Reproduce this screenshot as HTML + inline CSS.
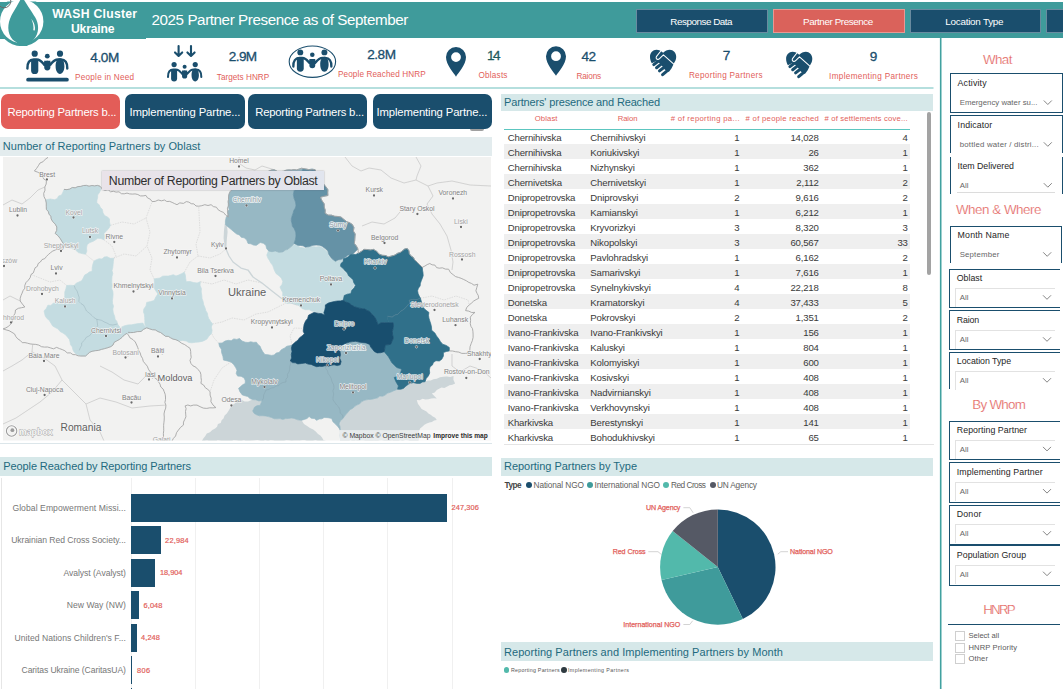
<!DOCTYPE html>
<html><head><meta charset="utf-8"><title>WASH Cluster Ukraine - Partner Presence</title>
<style>html,body{margin:0;padding:0;background:#fff}
#pg{position:relative;width:1063px;height:689px;overflow:hidden;background:#fff;font-family:"Liberation Sans",sans-serif}
.t{position:absolute;white-space:nowrap;margin:0}
.b{position:absolute}
svg{position:absolute;left:0;top:0;overflow:visible}
</style></head><body>
<div id="pg">
<div class="b" style="left:0px;top:1.7px;width:1063px;height:36px;background:#3F9B9B;"></div>
<div class="b" style="left:0px;top:1.7px;width:146px;height:36.9px;background:#3F9B9B;"></div>
<div class="b" style="left:636px;top:8.5px;width:130px;height:22.5px;background:#1A4E6D;border:1px solid rgba(255,255,255,.35);"></div>
<div class="t" style="left:670.25px;top:15.00px;height:13px;line-height:13px;font-size:9.9px;color:#fff;letter-spacing:-0.478px;">Response Data</div>
<div class="b" style="left:773px;top:8.5px;width:129.5px;height:22.5px;background:#DA625B;border:1px solid rgba(255,255,255,.35);"></div>
<div class="t" style="left:803.00px;top:15.00px;height:13px;line-height:13px;font-size:9.9px;color:#fff;letter-spacing:-0.436px;">Partner Presence</div>
<div class="b" style="left:909.5px;top:8.5px;width:129.0px;height:22.5px;background:#1A4E6D;border:1px solid rgba(255,255,255,.35);"></div>
<div class="t" style="left:945.25px;top:15.00px;height:13px;line-height:13px;font-size:9.9px;color:#fff;letter-spacing:-0.247px;">Location Type</div>
<div class="b" style="left:1045.5px;top:8.5px;width:23.5px;height:22.5px;background:#1A4E6D;border:1px solid rgba(255,255,255,.35);"></div>
<div class="t" style="left:151.50px;top:10.00px;height:19px;line-height:19px;font-size:15.2px;color:#fff;letter-spacing:-0.419px;">2025 Partner Presence as of September</div>
<div class="t" style="left:52.20px;top:6.00px;height:16px;line-height:16px;font-size:12.2px;color:#fff;letter-spacing:0.271px;font-weight:bold;">WASH Cluster</div>
<div class="t" style="left:71.00px;top:21.00px;height:16px;line-height:16px;font-size:12.2px;color:#fff;letter-spacing:-0.193px;font-weight:bold;">Ukraine</div>
<div class="t" style="left:90.30px;top:49.00px;height:17px;line-height:17px;font-size:13.6px;color:#1A4E6D;letter-spacing:-0.412px;-webkit-text-stroke:0.3px;">4.0M</div>
<div class="t" style="left:75.00px;top:72.00px;height:11px;line-height:11px;font-size:8.2px;color:#E2605A;letter-spacing:0.240px;">People in Need</div>
<div class="t" style="left:228.80px;top:48.00px;height:17px;line-height:17px;font-size:13.6px;color:#1A4E6D;letter-spacing:-0.612px;-webkit-text-stroke:0.3px;">2.9M</div>
<div class="t" style="left:216.80px;top:72.00px;height:11px;line-height:11px;font-size:8.2px;color:#E2605A;letter-spacing:0.009px;">Targets HNRP</div>
<div class="t" style="left:367.30px;top:46.00px;height:17px;line-height:17px;font-size:13.6px;color:#1A4E6D;letter-spacing:-0.512px;-webkit-text-stroke:0.3px;">2.8M</div>
<div class="t" style="left:338.00px;top:69.00px;height:11px;line-height:11px;font-size:8.2px;color:#E2605A;letter-spacing:0.092px;">People Reached HNRP</div>
<div class="t" style="left:487.00px;top:47.00px;height:17px;line-height:17px;font-size:13.6px;color:#1E5A5E;letter-spacing:-1.527px;-webkit-text-stroke:0.3px;">14</div>
<div class="t" style="left:478.50px;top:70.00px;height:11px;line-height:11px;font-size:8.2px;color:#E2605A;letter-spacing:0.200px;">Oblasts</div>
<div class="t" style="left:581.50px;top:48.00px;height:17px;line-height:17px;font-size:13.6px;color:#1A4E6D;letter-spacing:-0.627px;-webkit-text-stroke:0.3px;">42</div>
<div class="t" style="left:576.40px;top:71.00px;height:11px;line-height:11px;font-size:8.2px;color:#E2605A;letter-spacing:-0.145px;">Raions</div>
<div class="t" style="left:722.70px;top:47.00px;height:17px;line-height:17px;font-size:13.6px;color:#1A4E6D;-webkit-text-stroke:0.3px;">7</div>
<div class="t" style="left:688.90px;top:70.00px;height:11px;line-height:11px;font-size:8.2px;color:#E2605A;letter-spacing:0.293px;">Reporting Partners</div>
<div class="t" style="left:869.70px;top:48.00px;height:17px;line-height:17px;font-size:13.6px;color:#1A4E6D;-webkit-text-stroke:0.3px;">9</div>
<div class="t" style="left:829.10px;top:71.00px;height:11px;line-height:11px;font-size:8.2px;color:#E2605A;letter-spacing:0.320px;">Implementing Partners</div>
<div class="b" style="left:470px;top:127px;width:14px;height:4px;background:#a0a0a0;border-radius:2px;"></div>
<div class="b" style="left:1.2px;top:94.2px;width:118.8px;height:34.8px;background:#E35D58;border-radius:7px;"></div>
<div class="t" style="left:7.50px;top:105.00px;height:14px;line-height:14px;font-size:11.3px;color:#fff;letter-spacing:-0.213px;">Reporting Partners b...</div>
<div class="b" style="left:125.4px;top:94.2px;width:119.19999999999999px;height:34.8px;background:#1A4E6D;border-radius:7px;"></div>
<div class="t" style="left:129.40px;top:105.00px;height:14px;line-height:14px;font-size:11.3px;color:#fff;letter-spacing:-0.128px;">Implementing Partne...</div>
<div class="b" style="left:248px;top:94.2px;width:119.19999999999999px;height:34.8px;background:#1A4E6D;border-radius:7px;"></div>
<div class="t" style="left:255.20px;top:105.00px;height:14px;line-height:14px;font-size:11.3px;color:#fff;letter-spacing:-0.213px;">Reporting Partners b...</div>
<div class="b" style="left:372.8px;top:94.2px;width:119.19999999999999px;height:34.8px;background:#1A4E6D;border-radius:7px;"></div>
<div class="t" style="left:376.50px;top:105.00px;height:14px;line-height:14px;font-size:11.3px;color:#fff;letter-spacing:-0.128px;">Implementing Partne...</div>
<div class="b" style="left:0px;top:136.8px;width:492px;height:19.2px;background:#E3ECEE;"></div>
<div class="t" style="left:2.80px;top:139.00px;height:14px;line-height:14px;font-size:11px;color:#1E6A7E;letter-spacing:0.036px;">Number of Reporting Partners by Oblast</div>
<div class="b" style="left:0px;top:457px;width:492px;height:19px;background:#D6E8E9;"></div>
<div class="t" style="left:3.30px;top:459.00px;height:14px;line-height:14px;font-size:11px;color:#1E6A7E;letter-spacing:-0.106px;">People Reached by Reporting Partners</div>
<div class="b" style="left:0px;top:443.2px;width:492px;height:1px;background:#DCE6EA;"></div>
<div class="b" style="left:501.4px;top:94.2px;width:432px;height:16.4px;background:#D6E8E9;"></div>
<div class="t" style="left:504.00px;top:95.00px;height:14px;line-height:14px;font-size:11px;color:#1E6A7E;letter-spacing:-0.154px;">Partners&#x27; presence and Reached</div>
<div class="b" style="left:501.4px;top:457.5px;width:432px;height:18px;background:#D6E8E9;"></div>
<div class="t" style="left:504.00px;top:459.00px;height:14px;line-height:14px;font-size:11px;color:#1E6A7E;letter-spacing:-0.028px;">Reporting Partners by Type</div>
<div class="b" style="left:501.4px;top:642px;width:432px;height:19px;background:#D6E8E9;"></div>
<div class="t" style="left:504.00px;top:645.00px;height:14px;line-height:14px;font-size:11px;color:#1E6A7E;letter-spacing:0.062px;">Reporting Partners and Implementing Partners by Month</div>
<div class="b" style="left:101.5px;top:171.4px;width:222.5px;height:18.2px;background:linear-gradient(90deg,#E9E3E9 0%,#E6E3EA 60%,#E1E5EE 100%);box-shadow:0 0 1.5px rgba(90,90,110,.55);z-index:5;"></div>
<div class="t" style="left:108.80px;top:173.00px;height:16px;line-height:16px;font-size:12.3px;color:#2e2e2e;letter-spacing:-0.282px;z-index:6;">Number of Reporting Partners by Oblast</div>
<div class="b" style="left:130.5px;top:478px;width:1px;height:212px;background:#F0F0F0;"></div>
<div class="b" style="left:194.7px;top:478px;width:1px;height:212px;background:#F0F0F0;"></div>
<div class="b" style="left:258.9px;top:478px;width:1px;height:212px;background:#F0F0F0;"></div>
<div class="b" style="left:323.1px;top:478px;width:1px;height:212px;background:#F0F0F0;"></div>
<div class="b" style="left:387.3px;top:478px;width:1px;height:212px;background:#F0F0F0;"></div>
<div class="b" style="left:451.5px;top:478px;width:1px;height:212px;background:#F0F0F0;"></div>
<div class="b" style="left:0.5px;top:478px;width:1px;height:212px;background:#E6E6E6;"></div>
<div class="b" style="left:131px;top:493.5px;width:316px;height:28.2px;background:#1A4E6D;"></div>
<div class="t" style="left:12.40px;top:502.00px;height:12px;line-height:12px;font-size:8.6px;color:#777;letter-spacing:0.068px;">Global Empowerment Missi...</div>
<div class="t" style="left:451.60px;top:502.00px;height:11px;line-height:11px;font-size:7.4px;color:#E2605A;letter-spacing:0.075px;-webkit-text-stroke:0.2px;">247,306</div>
<div class="b" style="left:131px;top:526.0px;width:29.5px;height:28.2px;background:#1A4E6D;"></div>
<div class="t" style="left:11.20px;top:534.00px;height:12px;line-height:12px;font-size:8.6px;color:#777;letter-spacing:-0.057px;">Ukrainian Red Cross Society...</div>
<div class="t" style="left:165.10px;top:535.00px;height:11px;line-height:11px;font-size:7.4px;color:#E2605A;letter-spacing:0.173px;-webkit-text-stroke:0.2px;">22,984</div>
<div class="b" style="left:131px;top:558.5px;width:24.30000000000001px;height:28.2px;background:#1A4E6D;"></div>
<div class="t" style="left:63.50px;top:567.00px;height:12px;line-height:12px;font-size:8.6px;color:#777;letter-spacing:-0.047px;">Avalyst (Avalyst)</div>
<div class="t" style="left:159.90px;top:567.00px;height:11px;line-height:11px;font-size:7.4px;color:#E2605A;letter-spacing:-0.007px;-webkit-text-stroke:0.2px;">18,904</div>
<div class="b" style="left:131px;top:591.0px;width:8px;height:28.2px;background:#1A4E6D;"></div>
<div class="t" style="left:66.70px;top:599.00px;height:12px;line-height:12px;font-size:8.6px;color:#777;letter-spacing:0.035px;">New Way (NW)</div>
<div class="t" style="left:143.60px;top:600.00px;height:11px;line-height:11px;font-size:7.4px;color:#E2605A;letter-spacing:0.070px;-webkit-text-stroke:0.2px;">6,048</div>
<div class="b" style="left:131px;top:623.5px;width:5.5px;height:28.2px;background:#1A4E6D;"></div>
<div class="t" style="left:14.50px;top:632.00px;height:12px;line-height:12px;font-size:8.6px;color:#777;letter-spacing:0.030px;">United Nations Children&#x27;s F...</div>
<div class="t" style="left:141.10px;top:632.00px;height:11px;line-height:11px;font-size:7.4px;color:#E2605A;letter-spacing:0.070px;-webkit-text-stroke:0.2px;">4,248</div>
<div class="b" style="left:131px;top:656.0px;width:1.4000000000000057px;height:28.2px;background:#1A4E6D;"></div>
<div class="t" style="left:21.50px;top:664.00px;height:12px;line-height:12px;font-size:8.6px;color:#777;letter-spacing:-0.080px;">Caritas Ukraine (CaritasUA)</div>
<div class="t" style="left:137.00px;top:665.00px;height:11px;line-height:11px;font-size:7.4px;color:#E2605A;letter-spacing:0.427px;-webkit-text-stroke:0.2px;">806</div>
<div class="b" style="left:131px;top:687.8px;width:1px;height:2px;background:#1A4E6D;"></div>
<div class="t" style="left:534.65px;top:113.00px;height:11px;line-height:11px;font-size:7.7px;color:#E2605A;letter-spacing:0.129px;">Oblast</div>
<div class="t" style="left:617.70px;top:113.00px;height:11px;line-height:11px;font-size:7.7px;color:#E2605A;letter-spacing:-0.080px;">Raion</div>
<div class="t" style="left:670.70px;top:113.00px;height:11px;line-height:11px;font-size:7.7px;color:#E2605A;letter-spacing:0.342px;"># of reporting pa...</div>
<div class="t" style="left:745.60px;top:113.00px;height:11px;line-height:11px;font-size:7.7px;color:#E2605A;letter-spacing:0.291px;"># of people reached</div>
<div class="t" style="left:824.40px;top:113.00px;height:11px;line-height:11px;font-size:7.7px;color:#E2605A;letter-spacing:0.184px;"># of settlements cove...</div>
<div class="b" style="left:503.5px;top:129.3px;width:406.5px;height:1px;background:#5CC6C0;"></div>
<div class="t" style="left:507.70px;top:131.00px;height:13px;line-height:13px;font-size:9.6px;color:#3a3a3a;letter-spacing:-0.151px;">Chernihivska</div>
<div class="t" style="left:590.30px;top:131.00px;height:13px;line-height:13px;font-size:9.6px;color:#3a3a3a;letter-spacing:-0.143px;">Chernihivskyi</div>
<div class="t" style="left:734.36px;top:131.00px;height:13px;line-height:13px;font-size:9.6px;color:#3a3a3a;">1</div>
<div class="t" style="left:790.42px;top:131.00px;height:13px;line-height:13px;font-size:9.6px;color:#3a3a3a;letter-spacing:-0.176px;">14,028</div>
<div class="t" style="left:902.46px;top:131.00px;height:13px;line-height:13px;font-size:9.6px;color:#3a3a3a;">4</div>
<div class="b" style="left:503.5px;top:144.0px;width:406.5px;height:15px;background:#EFEFEF;"></div>
<div class="t" style="left:507.70px;top:146.00px;height:13px;line-height:13px;font-size:9.6px;color:#3a3a3a;letter-spacing:-0.151px;">Chernihivska</div>
<div class="t" style="left:590.30px;top:146.00px;height:13px;line-height:13px;font-size:9.6px;color:#3a3a3a;letter-spacing:-0.138px;">Koriukivskyi</div>
<div class="t" style="left:734.36px;top:146.00px;height:13px;line-height:13px;font-size:9.6px;color:#3a3a3a;">1</div>
<div class="t" style="left:808.54px;top:146.00px;height:13px;line-height:13px;font-size:9.6px;color:#3a3a3a;letter-spacing:-0.320px;">26</div>
<div class="t" style="left:902.46px;top:146.00px;height:13px;line-height:13px;font-size:9.6px;color:#3a3a3a;">1</div>
<div class="t" style="left:507.70px;top:161.00px;height:13px;line-height:13px;font-size:9.6px;color:#3a3a3a;letter-spacing:-0.151px;">Chernihivska</div>
<div class="t" style="left:590.30px;top:161.00px;height:13px;line-height:13px;font-size:9.6px;color:#3a3a3a;letter-spacing:-0.153px;">Nizhynskyi</div>
<div class="t" style="left:734.36px;top:161.00px;height:13px;line-height:13px;font-size:9.6px;color:#3a3a3a;">1</div>
<div class="t" style="left:803.36px;top:161.00px;height:13px;line-height:13px;font-size:9.6px;color:#3a3a3a;letter-spacing:-0.240px;">362</div>
<div class="t" style="left:902.46px;top:161.00px;height:13px;line-height:13px;font-size:9.6px;color:#3a3a3a;">1</div>
<div class="b" style="left:503.5px;top:174.0px;width:406.5px;height:15px;background:#EFEFEF;"></div>
<div class="t" style="left:507.70px;top:176.00px;height:13px;line-height:13px;font-size:9.6px;color:#3a3a3a;letter-spacing:-0.153px;">Chernivetska</div>
<div class="t" style="left:590.30px;top:176.00px;height:13px;line-height:13px;font-size:9.6px;color:#3a3a3a;letter-spacing:-0.144px;">Chernivetskyi</div>
<div class="t" style="left:734.36px;top:176.00px;height:13px;line-height:13px;font-size:9.6px;color:#3a3a3a;">1</div>
<div class="t" style="left:796.29px;top:176.00px;height:13px;line-height:13px;font-size:9.6px;color:#3a3a3a;letter-spacing:-0.175px;">2,112</div>
<div class="t" style="left:902.46px;top:176.00px;height:13px;line-height:13px;font-size:9.6px;color:#3a3a3a;">2</div>
<div class="t" style="left:507.70px;top:191.00px;height:13px;line-height:13px;font-size:9.6px;color:#3a3a3a;letter-spacing:-0.150px;">Dnipropetrovska</div>
<div class="t" style="left:590.30px;top:191.00px;height:13px;line-height:13px;font-size:9.6px;color:#3a3a3a;letter-spacing:-0.149px;">Dniprovskyi</div>
<div class="t" style="left:734.36px;top:191.00px;height:13px;line-height:13px;font-size:9.6px;color:#3a3a3a;">2</div>
<div class="t" style="left:795.60px;top:191.00px;height:13px;line-height:13px;font-size:9.6px;color:#3a3a3a;letter-spacing:-0.180px;">9,616</div>
<div class="t" style="left:902.46px;top:191.00px;height:13px;line-height:13px;font-size:9.6px;color:#3a3a3a;">2</div>
<div class="b" style="left:503.5px;top:204.0px;width:406.5px;height:15px;background:#EFEFEF;"></div>
<div class="t" style="left:507.70px;top:206.00px;height:13px;line-height:13px;font-size:9.6px;color:#3a3a3a;letter-spacing:-0.150px;">Dnipropetrovska</div>
<div class="t" style="left:590.30px;top:206.00px;height:13px;line-height:13px;font-size:9.6px;color:#3a3a3a;letter-spacing:-0.164px;">Kamianskyi</div>
<div class="t" style="left:734.36px;top:206.00px;height:13px;line-height:13px;font-size:9.6px;color:#3a3a3a;">1</div>
<div class="t" style="left:795.60px;top:206.00px;height:13px;line-height:13px;font-size:9.6px;color:#3a3a3a;letter-spacing:-0.180px;">6,212</div>
<div class="t" style="left:902.46px;top:206.00px;height:13px;line-height:13px;font-size:9.6px;color:#3a3a3a;">1</div>
<div class="t" style="left:507.70px;top:221.00px;height:13px;line-height:13px;font-size:9.6px;color:#3a3a3a;letter-spacing:-0.150px;">Dnipropetrovska</div>
<div class="t" style="left:590.30px;top:221.00px;height:13px;line-height:13px;font-size:9.6px;color:#3a3a3a;letter-spacing:-0.139px;">Kryvorizkyi</div>
<div class="t" style="left:734.36px;top:221.00px;height:13px;line-height:13px;font-size:9.6px;color:#3a3a3a;">3</div>
<div class="t" style="left:795.60px;top:221.00px;height:13px;line-height:13px;font-size:9.6px;color:#3a3a3a;letter-spacing:-0.180px;">8,320</div>
<div class="t" style="left:902.46px;top:221.00px;height:13px;line-height:13px;font-size:9.6px;color:#3a3a3a;">3</div>
<div class="b" style="left:503.5px;top:234.0px;width:406.5px;height:15px;background:#EFEFEF;"></div>
<div class="t" style="left:507.70px;top:236.00px;height:13px;line-height:13px;font-size:9.6px;color:#3a3a3a;letter-spacing:-0.150px;">Dnipropetrovska</div>
<div class="t" style="left:590.30px;top:236.00px;height:13px;line-height:13px;font-size:9.6px;color:#3a3a3a;letter-spacing:-0.146px;">Nikopolskyi</div>
<div class="t" style="left:734.36px;top:236.00px;height:13px;line-height:13px;font-size:9.6px;color:#3a3a3a;">3</div>
<div class="t" style="left:790.42px;top:236.00px;height:13px;line-height:13px;font-size:9.6px;color:#3a3a3a;letter-spacing:-0.176px;">60,567</div>
<div class="t" style="left:897.44px;top:236.00px;height:13px;line-height:13px;font-size:9.6px;color:#3a3a3a;letter-spacing:-0.320px;">33</div>
<div class="t" style="left:507.70px;top:251.00px;height:13px;line-height:13px;font-size:9.6px;color:#3a3a3a;letter-spacing:-0.150px;">Dnipropetrovska</div>
<div class="t" style="left:590.30px;top:251.00px;height:13px;line-height:13px;font-size:9.6px;color:#3a3a3a;letter-spacing:-0.149px;">Pavlohradskyi</div>
<div class="t" style="left:734.36px;top:251.00px;height:13px;line-height:13px;font-size:9.6px;color:#3a3a3a;">1</div>
<div class="t" style="left:795.60px;top:251.00px;height:13px;line-height:13px;font-size:9.6px;color:#3a3a3a;letter-spacing:-0.180px;">6,162</div>
<div class="t" style="left:902.46px;top:251.00px;height:13px;line-height:13px;font-size:9.6px;color:#3a3a3a;">2</div>
<div class="b" style="left:503.5px;top:264.0px;width:406.5px;height:15px;background:#EFEFEF;"></div>
<div class="t" style="left:507.70px;top:266.00px;height:13px;line-height:13px;font-size:9.6px;color:#3a3a3a;letter-spacing:-0.150px;">Dnipropetrovska</div>
<div class="t" style="left:590.30px;top:266.00px;height:13px;line-height:13px;font-size:9.6px;color:#3a3a3a;letter-spacing:-0.155px;">Samarivskyi</div>
<div class="t" style="left:734.36px;top:266.00px;height:13px;line-height:13px;font-size:9.6px;color:#3a3a3a;">1</div>
<div class="t" style="left:795.60px;top:266.00px;height:13px;line-height:13px;font-size:9.6px;color:#3a3a3a;letter-spacing:-0.180px;">7,616</div>
<div class="t" style="left:902.46px;top:266.00px;height:13px;line-height:13px;font-size:9.6px;color:#3a3a3a;">1</div>
<div class="t" style="left:507.70px;top:281.00px;height:13px;line-height:13px;font-size:9.6px;color:#3a3a3a;letter-spacing:-0.150px;">Dnipropetrovska</div>
<div class="t" style="left:590.30px;top:281.00px;height:13px;line-height:13px;font-size:9.6px;color:#3a3a3a;letter-spacing:-0.144px;">Synelnykivskyi</div>
<div class="t" style="left:734.36px;top:281.00px;height:13px;line-height:13px;font-size:9.6px;color:#3a3a3a;">4</div>
<div class="t" style="left:790.42px;top:281.00px;height:13px;line-height:13px;font-size:9.6px;color:#3a3a3a;letter-spacing:-0.176px;">22,218</div>
<div class="t" style="left:902.46px;top:281.00px;height:13px;line-height:13px;font-size:9.6px;color:#3a3a3a;">8</div>
<div class="b" style="left:503.5px;top:294.0px;width:406.5px;height:15px;background:#EFEFEF;"></div>
<div class="t" style="left:507.70px;top:296.00px;height:13px;line-height:13px;font-size:9.6px;color:#3a3a3a;letter-spacing:-0.174px;">Donetska</div>
<div class="t" style="left:590.30px;top:296.00px;height:13px;line-height:13px;font-size:9.6px;color:#3a3a3a;letter-spacing:-0.153px;">Kramatorskyi</div>
<div class="t" style="left:734.36px;top:296.00px;height:13px;line-height:13px;font-size:9.6px;color:#3a3a3a;">4</div>
<div class="t" style="left:790.42px;top:296.00px;height:13px;line-height:13px;font-size:9.6px;color:#3a3a3a;letter-spacing:-0.176px;">37,433</div>
<div class="t" style="left:902.46px;top:296.00px;height:13px;line-height:13px;font-size:9.6px;color:#3a3a3a;">5</div>
<div class="t" style="left:507.70px;top:311.00px;height:13px;line-height:13px;font-size:9.6px;color:#3a3a3a;letter-spacing:-0.174px;">Donetska</div>
<div class="t" style="left:590.30px;top:311.00px;height:13px;line-height:13px;font-size:9.6px;color:#3a3a3a;letter-spacing:-0.155px;">Pokrovskyi</div>
<div class="t" style="left:734.36px;top:311.00px;height:13px;line-height:13px;font-size:9.6px;color:#3a3a3a;">2</div>
<div class="t" style="left:795.60px;top:311.00px;height:13px;line-height:13px;font-size:9.6px;color:#3a3a3a;letter-spacing:-0.180px;">1,351</div>
<div class="t" style="left:902.46px;top:311.00px;height:13px;line-height:13px;font-size:9.6px;color:#3a3a3a;">2</div>
<div class="b" style="left:503.5px;top:324.0px;width:406.5px;height:15px;background:#EFEFEF;"></div>
<div class="t" style="left:507.70px;top:326.00px;height:13px;line-height:13px;font-size:9.6px;color:#3a3a3a;letter-spacing:-0.146px;">Ivano-Frankivska</div>
<div class="t" style="left:590.30px;top:326.00px;height:13px;line-height:13px;font-size:9.6px;color:#3a3a3a;letter-spacing:-0.140px;">Ivano-Frankivskyi</div>
<div class="t" style="left:734.36px;top:326.00px;height:13px;line-height:13px;font-size:9.6px;color:#3a3a3a;">1</div>
<div class="t" style="left:803.36px;top:326.00px;height:13px;line-height:13px;font-size:9.6px;color:#3a3a3a;letter-spacing:-0.240px;">156</div>
<div class="t" style="left:902.46px;top:326.00px;height:13px;line-height:13px;font-size:9.6px;color:#3a3a3a;">1</div>
<div class="t" style="left:507.70px;top:341.00px;height:13px;line-height:13px;font-size:9.6px;color:#3a3a3a;letter-spacing:-0.146px;">Ivano-Frankivska</div>
<div class="t" style="left:590.30px;top:341.00px;height:13px;line-height:13px;font-size:9.6px;color:#3a3a3a;letter-spacing:-0.153px;">Kaluskyi</div>
<div class="t" style="left:734.36px;top:341.00px;height:13px;line-height:13px;font-size:9.6px;color:#3a3a3a;">1</div>
<div class="t" style="left:803.36px;top:341.00px;height:13px;line-height:13px;font-size:9.6px;color:#3a3a3a;letter-spacing:-0.240px;">804</div>
<div class="t" style="left:902.46px;top:341.00px;height:13px;line-height:13px;font-size:9.6px;color:#3a3a3a;">1</div>
<div class="b" style="left:503.5px;top:354.0px;width:406.5px;height:15px;background:#EFEFEF;"></div>
<div class="t" style="left:507.70px;top:356.00px;height:13px;line-height:13px;font-size:9.6px;color:#3a3a3a;letter-spacing:-0.146px;">Ivano-Frankivska</div>
<div class="t" style="left:590.30px;top:356.00px;height:13px;line-height:13px;font-size:9.6px;color:#3a3a3a;letter-spacing:-0.152px;">Kolomyiskyi</div>
<div class="t" style="left:734.36px;top:356.00px;height:13px;line-height:13px;font-size:9.6px;color:#3a3a3a;">1</div>
<div class="t" style="left:803.36px;top:356.00px;height:13px;line-height:13px;font-size:9.6px;color:#3a3a3a;letter-spacing:-0.240px;">600</div>
<div class="t" style="left:902.46px;top:356.00px;height:13px;line-height:13px;font-size:9.6px;color:#3a3a3a;">1</div>
<div class="t" style="left:507.70px;top:371.00px;height:13px;line-height:13px;font-size:9.6px;color:#3a3a3a;letter-spacing:-0.146px;">Ivano-Frankivska</div>
<div class="t" style="left:590.30px;top:371.00px;height:13px;line-height:13px;font-size:9.6px;color:#3a3a3a;letter-spacing:-0.150px;">Kosivskyi</div>
<div class="t" style="left:734.36px;top:371.00px;height:13px;line-height:13px;font-size:9.6px;color:#3a3a3a;">1</div>
<div class="t" style="left:803.36px;top:371.00px;height:13px;line-height:13px;font-size:9.6px;color:#3a3a3a;letter-spacing:-0.240px;">408</div>
<div class="t" style="left:902.46px;top:371.00px;height:13px;line-height:13px;font-size:9.6px;color:#3a3a3a;">1</div>
<div class="b" style="left:503.5px;top:384.0px;width:406.5px;height:15px;background:#EFEFEF;"></div>
<div class="t" style="left:507.70px;top:386.00px;height:13px;line-height:13px;font-size:9.6px;color:#3a3a3a;letter-spacing:-0.146px;">Ivano-Frankivska</div>
<div class="t" style="left:590.30px;top:386.00px;height:13px;line-height:13px;font-size:9.6px;color:#3a3a3a;letter-spacing:-0.144px;">Nadvirnianskyi</div>
<div class="t" style="left:734.36px;top:386.00px;height:13px;line-height:13px;font-size:9.6px;color:#3a3a3a;">1</div>
<div class="t" style="left:803.36px;top:386.00px;height:13px;line-height:13px;font-size:9.6px;color:#3a3a3a;letter-spacing:-0.240px;">408</div>
<div class="t" style="left:902.46px;top:386.00px;height:13px;line-height:13px;font-size:9.6px;color:#3a3a3a;">1</div>
<div class="t" style="left:507.70px;top:401.00px;height:13px;line-height:13px;font-size:9.6px;color:#3a3a3a;letter-spacing:-0.146px;">Ivano-Frankivska</div>
<div class="t" style="left:590.30px;top:401.00px;height:13px;line-height:13px;font-size:9.6px;color:#3a3a3a;letter-spacing:-0.153px;">Verkhovynskyi</div>
<div class="t" style="left:734.36px;top:401.00px;height:13px;line-height:13px;font-size:9.6px;color:#3a3a3a;">1</div>
<div class="t" style="left:803.36px;top:401.00px;height:13px;line-height:13px;font-size:9.6px;color:#3a3a3a;letter-spacing:-0.240px;">408</div>
<div class="t" style="left:902.46px;top:401.00px;height:13px;line-height:13px;font-size:9.6px;color:#3a3a3a;">1</div>
<div class="b" style="left:503.5px;top:414.0px;width:406.5px;height:15px;background:#EFEFEF;"></div>
<div class="t" style="left:507.70px;top:416.00px;height:13px;line-height:13px;font-size:9.6px;color:#3a3a3a;letter-spacing:-0.157px;">Kharkivska</div>
<div class="t" style="left:590.30px;top:416.00px;height:13px;line-height:13px;font-size:9.6px;color:#3a3a3a;letter-spacing:-0.148px;">Berestynskyi</div>
<div class="t" style="left:734.36px;top:416.00px;height:13px;line-height:13px;font-size:9.6px;color:#3a3a3a;">1</div>
<div class="t" style="left:803.36px;top:416.00px;height:13px;line-height:13px;font-size:9.6px;color:#3a3a3a;letter-spacing:-0.240px;">141</div>
<div class="t" style="left:902.46px;top:416.00px;height:13px;line-height:13px;font-size:9.6px;color:#3a3a3a;">1</div>
<div class="t" style="left:507.70px;top:431.00px;height:13px;line-height:13px;font-size:9.6px;color:#3a3a3a;letter-spacing:-0.157px;">Kharkivska</div>
<div class="t" style="left:590.30px;top:431.00px;height:13px;line-height:13px;font-size:9.6px;color:#3a3a3a;letter-spacing:-0.154px;">Bohodukhivskyi</div>
<div class="t" style="left:734.36px;top:431.00px;height:13px;line-height:13px;font-size:9.6px;color:#3a3a3a;">1</div>
<div class="t" style="left:808.54px;top:431.00px;height:13px;line-height:13px;font-size:9.6px;color:#3a3a3a;letter-spacing:-0.320px;">65</div>
<div class="t" style="left:902.46px;top:431.00px;height:13px;line-height:13px;font-size:9.6px;color:#3a3a3a;">1</div>
<div class="b" style="left:503.5px;top:444.3px;width:430px;height:1px;background:#E4E4E4;"></div>
<div class="b" style="left:927.3px;top:112px;width:3.6px;height:163.2px;background:#A3A3A3;border-radius:2px;"></div>
<div class="t" style="left:646.10px;top:503.00px;height:10px;line-height:10px;font-size:7.1px;color:#E2605A;letter-spacing:-0.152px;-webkit-text-stroke:0.25px;">UN Agency</div>
<div class="t" style="left:612.70px;top:547.00px;height:10px;line-height:10px;font-size:7.1px;color:#E2605A;letter-spacing:-0.067px;-webkit-text-stroke:0.25px;">Red Cross</div>
<div class="t" style="left:790.10px;top:547.00px;height:10px;line-height:10px;font-size:7.1px;color:#E2605A;letter-spacing:-0.127px;-webkit-text-stroke:0.25px;">National NGO</div>
<div class="t" style="left:623.30px;top:620.00px;height:10px;line-height:10px;font-size:7.1px;color:#E2605A;letter-spacing:-0.008px;-webkit-text-stroke:0.25px;">International NGO</div>
<div class="t" style="left:504.60px;top:480.00px;height:11px;line-height:11px;font-size:8.2px;color:#444;letter-spacing:-0.543px;font-weight:bold;">Type</div>
<div class="b" style="left:525.8px;top:482.2px;width:6.2px;height:6.2px;background:#1A4E6D;border-radius:50%;"></div>
<div class="t" style="left:533.50px;top:479.00px;height:12px;line-height:12px;font-size:8.3px;color:#605E5C;letter-spacing:-0.106px;">National NGO</div>
<div class="b" style="left:587.1999999999999px;top:482.2px;width:6.2px;height:6.2px;background:#3F9B9B;border-radius:50%;"></div>
<div class="t" style="left:594.60px;top:479.00px;height:12px;line-height:12px;font-size:8.3px;color:#605E5C;letter-spacing:-0.093px;">International NGO</div>
<div class="b" style="left:662.9px;top:482.2px;width:6.2px;height:6.2px;background:#52B9AB;border-radius:50%;"></div>
<div class="t" style="left:671.00px;top:479.00px;height:12px;line-height:12px;font-size:8.3px;color:#605E5C;letter-spacing:-0.526px;">Red Cross</div>
<div class="b" style="left:709.5px;top:482.2px;width:6.2px;height:6.2px;background:#555965;border-radius:50%;"></div>
<div class="t" style="left:717.00px;top:479.00px;height:12px;line-height:12px;font-size:8.3px;color:#605E5C;letter-spacing:-0.190px;">UN Agency</div>
<div class="b" style="left:503.6px;top:667.2px;width:5.8px;height:5.8px;background:#52B9AB;border-radius:50%;"></div>
<div class="t" style="left:511.00px;top:666.00px;height:8px;line-height:8px;font-size:5.3px;color:#555;letter-spacing:0.242px;">Reporting Partners</div>
<div class="b" style="left:561.2px;top:667.2px;width:5.8px;height:5.8px;background:#2F3A40;border-radius:50%;"></div>
<div class="t" style="left:568.00px;top:666.00px;height:8px;line-height:8px;font-size:5.3px;color:#555;letter-spacing:0.384px;">Implementing Partners</div>
<div class="t" style="left:982.90px;top:51.00px;height:17px;line-height:17px;font-size:13.4px;color:#E2605A;letter-spacing:-0.558px;-webkit-text-stroke:0.22px #fff;">What</div>
<div class="t" style="left:955.90px;top:201.00px;height:17px;line-height:17px;font-size:13.4px;color:#E2605A;letter-spacing:-0.478px;-webkit-text-stroke:0.22px #fff;">When &amp; Where</div>
<div class="t" style="left:972.30px;top:396.00px;height:17px;line-height:17px;font-size:13.4px;color:#E2605A;letter-spacing:-0.729px;-webkit-text-stroke:0.22px #fff;">By Whom</div>
<div class="t" style="left:983.30px;top:601.00px;height:17px;line-height:17px;font-size:13.4px;color:#E2605A;letter-spacing:-1.856px;-webkit-text-stroke:0.22px #fff;">HNRP</div>
<div class="b" style="left:950.1px;top:73.2px;width:110.6px;height:38px;background:transparent;border:1.2px solid #1A4E6D;"></div>
<div class="t" style="left:957.60px;top:77.00px;height:12px;line-height:12px;font-size:8.8px;color:#252525;letter-spacing:0.161px;">Activity</div>
<div class="t" style="left:959.70px;top:97.00px;height:11px;line-height:11px;font-size:7.8px;color:#666;letter-spacing:0.010px;">Emergency water su...</div>
<div class="b" style="left:950.1px;top:115px;width:110.6px;height:37px;background:transparent;border:1.2px solid #1A4E6D;border-bottom:none;"></div>
<div class="t" style="left:957.60px;top:119.00px;height:12px;line-height:12px;font-size:8.8px;color:#252525;letter-spacing:0.106px;">Indicator</div>
<div class="t" style="left:959.70px;top:139.00px;height:11px;line-height:11px;font-size:7.8px;color:#666;letter-spacing:0.203px;">bottled water / distri...</div>
<div class="b" style="left:950.1px;top:156.5px;width:110.6px;height:37.7px;background:transparent;border-left:1.2px solid #1A4E6D;border-right:1.2px solid #1A4E6D;"></div>
<div class="t" style="left:957.60px;top:160.00px;height:12px;line-height:12px;font-size:8.8px;color:#252525;letter-spacing:-0.026px;">Item Delivered</div>
<div class="t" style="left:959.70px;top:180.00px;height:11px;line-height:11px;font-size:7.8px;color:#666;letter-spacing:0.016px;">All</div>
<div class="b" style="left:956.8px;top:192.3px;width:97.8px;height:0.8px;background:#DCDCDC;"></div>
<div class="b" style="left:950.2px;top:225.7px;width:109.6px;height:36.8px;background:transparent;border:1.2px solid #1A4E6D;border-bottom:none;"></div>
<div class="t" style="left:957.60px;top:229.00px;height:12px;line-height:12px;font-size:8.8px;color:#252525;letter-spacing:0.158px;">Month Name</div>
<div class="t" style="left:959.70px;top:249.00px;height:11px;line-height:11px;font-size:7.8px;color:#666;letter-spacing:0.181px;">September</div>
<div class="b" style="left:949.3px;top:268.6px;width:109.5px;height:37.199999999999974px;background:transparent;border:1.2px solid #1A4E6D;border-right:none;"></div>
<div class="t" style="left:956.80px;top:272.00px;height:12px;line-height:12px;font-size:8.8px;color:#252525;letter-spacing:-0.027px;">Oblast</div>
<div class="t" style="left:959.70px;top:292.00px;height:11px;line-height:11px;font-size:7.8px;color:#666;letter-spacing:0.016px;">All</div>
<div class="b" style="left:955.1px;top:288.1px;width:98.5px;height:18px;background:transparent;border:0.8px solid #E2E2E2;border-right:none;border-bottom:none;"></div>
<div class="b" style="left:949.3px;top:310.4px;width:109.5px;height:37.50000000000004px;background:transparent;border:1.2px solid #1A4E6D;border-right:none;"></div>
<div class="t" style="left:956.80px;top:314.00px;height:12px;line-height:12px;font-size:8.8px;color:#252525;letter-spacing:-0.173px;">Raion</div>
<div class="t" style="left:959.70px;top:334.00px;height:11px;line-height:11px;font-size:7.8px;color:#666;letter-spacing:0.016px;">All</div>
<div class="b" style="left:955.1px;top:330.2px;width:98.5px;height:18px;background:transparent;border:0.8px solid #E2E2E2;border-right:none;border-bottom:none;"></div>
<div class="b" style="left:949.3px;top:351.5px;width:109.5px;height:36.3px;background:transparent;border:1.2px solid #1A4E6D;border-right:none;border-bottom:none;"></div>
<div class="t" style="left:956.80px;top:355.00px;height:12px;line-height:12px;font-size:8.8px;color:#252525;letter-spacing:-0.028px;">Location Type</div>
<div class="t" style="left:959.70px;top:375.00px;height:11px;line-height:11px;font-size:7.8px;color:#666;letter-spacing:0.016px;">All</div>
<div class="b" style="left:955.1px;top:371.3px;width:98.5px;height:18px;background:transparent;border:0.8px solid #E2E2E2;border-right:none;border-bottom:none;"></div>
<div class="b" style="left:949.3px;top:420.5px;width:109.5px;height:37.699999999999974px;background:transparent;border:1.2px solid #1A4E6D;border-right:none;"></div>
<div class="t" style="left:956.80px;top:424.00px;height:12px;line-height:12px;font-size:8.8px;color:#252525;letter-spacing:0.046px;">Reporting Partner</div>
<div class="t" style="left:959.70px;top:444.00px;height:11px;line-height:11px;font-size:7.8px;color:#666;letter-spacing:0.016px;">All</div>
<div class="b" style="left:955.1px;top:440px;width:98.5px;height:18px;background:transparent;border:0.8px solid #E2E2E2;border-right:none;border-bottom:none;"></div>
<div class="b" style="left:949.3px;top:462.3px;width:109.5px;height:38.39999999999996px;background:transparent;border:1.2px solid #1A4E6D;border-right:none;"></div>
<div class="t" style="left:956.80px;top:466.00px;height:12px;line-height:12px;font-size:8.8px;color:#252525;letter-spacing:0.093px;">Implementing Partner</div>
<div class="t" style="left:959.70px;top:486.00px;height:11px;line-height:11px;font-size:7.8px;color:#666;letter-spacing:0.016px;">All</div>
<div class="b" style="left:955.1px;top:482.3px;width:98.5px;height:18px;background:transparent;border:0.8px solid #E2E2E2;border-right:none;border-bottom:none;"></div>
<div class="b" style="left:949.3px;top:504.5px;width:109.5px;height:38.3px;background:transparent;border:1.2px solid #1A4E6D;border-right:none;"></div>
<div class="t" style="left:956.80px;top:508.00px;height:12px;line-height:12px;font-size:8.8px;color:#252525;letter-spacing:0.158px;">Donor</div>
<div class="t" style="left:959.70px;top:528.00px;height:11px;line-height:11px;font-size:7.8px;color:#666;letter-spacing:0.016px;">All</div>
<div class="b" style="left:955.1px;top:524.2px;width:98.5px;height:18px;background:transparent;border:0.8px solid #E2E2E2;border-right:none;border-bottom:none;"></div>
<div class="b" style="left:949.3px;top:545.3px;width:109.5px;height:38.3px;background:transparent;border:1.2px solid #1A4E6D;border-right:none;"></div>
<div class="t" style="left:956.80px;top:549.00px;height:12px;line-height:12px;font-size:8.8px;color:#252525;letter-spacing:0.054px;">Population Group</div>
<div class="t" style="left:959.70px;top:569.00px;height:11px;line-height:11px;font-size:7.8px;color:#666;letter-spacing:0.016px;">All</div>
<div class="b" style="left:955.1px;top:565px;width:98.5px;height:18px;background:transparent;border:0.8px solid #E2E2E2;border-right:none;border-bottom:none;"></div>
<div class="b" style="left:948px;top:624px;width:112px;height:1.2px;background:#1A4E6D;"></div>
<div class="b" style="left:955.1px;top:631.0px;width:7.8px;height:7.8px;background:#fff;border:0.8px solid #cfcfcf;"></div>
<div class="t" style="left:968.50px;top:630.00px;height:11px;line-height:11px;font-size:7.6px;color:#5a5a5a;letter-spacing:-0.026px;">Select all</div>
<div class="b" style="left:955.1px;top:642.8000000000001px;width:7.8px;height:7.8px;background:#fff;border:0.8px solid #cfcfcf;"></div>
<div class="t" style="left:968.50px;top:642.00px;height:11px;line-height:11px;font-size:7.6px;color:#5a5a5a;letter-spacing:0.112px;">HNRP Priority</div>
<div class="b" style="left:955.1px;top:653.9px;width:7.8px;height:7.8px;background:#fff;border:0.8px solid #cfcfcf;"></div>
<div class="t" style="left:968.50px;top:653.00px;height:11px;line-height:11px;font-size:7.6px;color:#5a5a5a;letter-spacing:0.123px;">Other</div>
<svg width="1063" height="689" viewBox="0 0 1063 689">
<g>
<clipPath id="lc"><rect x="-5" y="1.6" width="60" height="60"/></clipPath>
<circle cx="21.7" cy="21.4" r="24.7" fill="#3F9B9B" clip-path="url(#lc)"/>
<circle cx="21.7" cy="21.4" r="21.7" fill="#fff"/>
<path d="M22,-4 C21,0 13,12 11,16.500 C9.300,20 8.300,24 8.300,28 C8.300,37 14.800,44 23.200,44 C31.600,44 38.100,37 38.100,28 C38.100,24 37,20 35,17 C32,12 23.500,0 22,-4 Z" fill="#3F9B9B"/>
<path d="M16,41 L30.5,41 L27,46 L19,46 Z" fill="#3F9B9B"/>
<path d="M31.300,18.700 C34.400,22.800 35.500,26.500 34.800,30.600 L33.300,30.300 C33.900,26.800 33.200,23 31.300,18.700 Z" fill="#fff"/>
<circle cx="4.200" cy="1.200" r="6.600" fill="none" stroke="#6b6b6b" stroke-width="1"/>
</g>
<rect x="0" y="87.2" width="933.5" height="1.6" fill="#A3D7D6"/>
<g transform="translate(34.7,53.7)"><g fill="#1A4E6D" stroke="none">
<circle cx="0" cy="0" r="3.1"/><circle cx="12.6" cy="2.5" r="2.4"/><circle cx="25.3" cy="0" r="3.1"/>
<path d="M-3.6,5.2 h7.2 v11.5 a3.6,3.6 0 0 1 -7.2,0 z"/>
<path d="M9.500,7 h6.200 v6.600 a3.100,3.100 0 0 1 -6.200,0 z"/>
<path d="M25.3,4.6 c3,0 4.4,4 4.4,8 c0,4 -1.6,7.6 -4.4,7.6 c-2.8,0 -4.4,-3.600 -4.400,-7.600 c0,-4 1.400,-8 4.400,-8 z"/>
<path d="M-7.300,14.800 C-7.600,9 -5,5.800 -1,5.800 L2,5.800 C6,5.800 7.500,8.500 9.500,11 C10.500,8.800 11.300,8.200 12.600,8.200 C13.900,8.200 14.700,8.800 15.700,11 C17.700,8.500 19.500,5.800 23.300,5.800 L26.300,5.800 C30.300,5.800 32.900,9 32.600,14.800" fill="none" stroke="#1A4E6D" stroke-width="2.450" stroke-linecap="round" stroke-linejoin="round"/>
</g></g>
<rect x="26.2" y="77.8" width="42.6" height="3.8" rx="1.9" fill="#1A4E6D"/>
<g transform="translate(174.1,64.6) scale(0.835)"><g fill="#1A4E6D" stroke="none">
<circle cx="0" cy="0" r="3.1"/><circle cx="12.6" cy="2.5" r="2.4"/><circle cx="25.3" cy="0" r="3.1"/>
<path d="M-3.6,5.2 h7.2 v11.5 a3.6,3.6 0 0 1 -7.2,0 z"/>
<path d="M9.500,7 h6.200 v6.600 a3.100,3.100 0 0 1 -6.200,0 z"/>
<path d="M25.3,4.6 c3,0 4.4,4 4.4,8 c0,4 -1.6,7.6 -4.4,7.6 c-2.8,0 -4.4,-3.600 -4.400,-7.600 c0,-4 1.400,-8 4.400,-8 z"/>
<path d="M-7.300,14.800 C-7.600,9 -5,5.800 -1,5.800 L2,5.800 C6,5.800 7.500,8.500 9.500,11 C10.500,8.800 11.300,8.200 12.600,8.200 C13.900,8.200 14.700,8.800 15.700,11 C17.700,8.500 19.500,5.800 23.300,5.800 L26.300,5.800 C30.300,5.800 32.900,9 32.600,14.800" fill="none" stroke="#1A4E6D" stroke-width="2.450" stroke-linecap="round" stroke-linejoin="round"/>
</g></g>
<path d="M178.6,46 V55.6 M175.0,52.4 L178.6,56 L182.2,52.4" fill="none" stroke="#1A4E6D" stroke-width="2.1" stroke-linecap="round" stroke-linejoin="round"/>
<path d="M191,46 V55.6 M187.4,52.4 L191,56 L194.6,52.4" fill="none" stroke="#1A4E6D" stroke-width="2.1" stroke-linecap="round" stroke-linejoin="round"/>
<g transform="translate(300.3,52.4) scale(0.953)"><g fill="#1A4E6D" stroke="none">
<circle cx="0" cy="0" r="3.1"/><circle cx="12.6" cy="2.5" r="2.4"/><circle cx="25.3" cy="0" r="3.1"/>
<path d="M-3.6,5.2 h7.2 v11.5 a3.6,3.6 0 0 1 -7.2,0 z"/>
<path d="M9.500,7 h6.200 v6.600 a3.100,3.100 0 0 1 -6.200,0 z"/>
<path d="M25.3,4.6 c3,0 4.4,4 4.4,8 c0,4 -1.6,7.6 -4.4,7.6 c-2.8,0 -4.4,-3.600 -4.400,-7.600 c0,-4 1.400,-8 4.400,-8 z"/>
<path d="M-7.300,14.800 C-7.600,9 -5,5.800 -1,5.800 L2,5.800 C6,5.800 7.500,8.500 9.500,11 C10.500,8.800 11.300,8.200 12.600,8.200 C13.900,8.200 14.700,8.800 15.700,11 C17.700,8.500 19.500,5.800 23.300,5.800 L26.300,5.800 C30.300,5.800 32.900,9 32.600,14.800" fill="none" stroke="#1A4E6D" stroke-width="2.450" stroke-linecap="round" stroke-linejoin="round"/>
</g></g>
<ellipse cx="312.4" cy="61.7" rx="23.2" ry="15.7" fill="none" stroke="#1A4E6D" stroke-width="1.1"/>
<path fill-rule="evenodd" fill="#1A4E6D" d="M456,76.7 C454,73.1 446,65.1 446,57.1 A10,10 0 1 1 466,57.1 C466,65.1 458,73.1 456,76.7 Z M451.1,57.1 a4.9,4.9 0 1 0 9.8,0 a4.9,4.9 0 1 0 -9.8,0 Z"/>
<path fill-rule="evenodd" fill="#1A4E6D" d="M556,75.80000000000001 C554,72.2 546,64.2 546,56.2 A10,10 0 1 1 566,56.2 C566,64.2 558,72.2 556,75.80000000000001 Z M551.1,56.2 a4.9,4.9 0 1 0 9.8,0 a4.9,4.9 0 1 0 -9.8,0 Z"/>
<g transform="translate(649.9,49.8)">
<path fill="#1A4E6D" d="M0.1,6.9 C0.1,3 3,0 6.5,0 C9,0 11.2,1 13.2,3 C15.2,1 17.4,0 19.9,0 C23.4,0 26.3,3 26.3,6.9 C26.3,9 25.6,10.8 24.7,12.2 L23.5,14.6 L21.7,18.4 L19.3,21.8 L17.8,22.4 L16.6,21 L14.8,19.6 L13.4,17.2 L11.6,15.8 L10.4,14 L8.4,12.4 L7.4,10.6 L1.9,13.4 C0.7,11.5 0.1,9 0.1,6.9 Z"/>
<path fill="none" stroke="#1A4E6D" stroke-width="3.05" stroke-linecap="round" d="M3.9,14.8 L7.9,11.7 M6.7,17.9 L10.9,14.6 M9.6,21.1 L13.9,17.7 M12.7,24.9 L16.6,21.5"/>
<path fill="none" stroke="#fff" stroke-width="1.05" stroke-linecap="round" stroke-linejoin="round" d="M11.5,0.4 L6.7,6.6 C5.9,7.7 6.2,8.9 7.3,9.4 C8.2,9.8 8.9,9.5 9.4,9 L13.5,5 L23.9,14.4"/>
</g>
<g transform="translate(786,51.8)">
<path fill="#1A4E6D" d="M0.1,6.9 C0.1,3 3,0 6.5,0 C9,0 11.2,1 13.2,3 C15.2,1 17.4,0 19.9,0 C23.4,0 26.3,3 26.3,6.9 C26.3,9 25.6,10.8 24.7,12.2 L23.5,14.6 L21.7,18.4 L19.3,21.8 L17.8,22.4 L16.6,21 L14.8,19.6 L13.4,17.2 L11.6,15.8 L10.4,14 L8.4,12.4 L7.4,10.6 L1.9,13.4 C0.7,11.5 0.1,9 0.1,6.9 Z"/>
<path fill="none" stroke="#1A4E6D" stroke-width="3.05" stroke-linecap="round" d="M3.9,14.8 L7.9,11.7 M6.7,17.9 L10.9,14.6 M9.6,21.1 L13.9,17.7 M12.7,24.9 L16.6,21.5"/>
<path fill="none" stroke="#fff" stroke-width="1.05" stroke-linecap="round" stroke-linejoin="round" d="M11.5,0.4 L6.7,6.6 C5.9,7.7 6.2,8.9 7.3,9.4 C8.2,9.8 8.9,9.5 9.4,9 L13.5,5 L23.9,14.4"/>
</g>
<clipPath id="mapclip"><rect x="3" y="157" width="488" height="283.4"/></clipPath>
<g clip-path="url(#mapclip)">
<rect x="3" y="157" width="488" height="284" fill="#F2F2F1"/>
<polygon points="231.8,405.1 234.2,404.0 236.0,402.0 239.1,401.6 241.8,400.1 244.7,401.6 248.0,401.5 252.7,399.6 255.8,399.8 258.9,400.9 262.1,400.6 260.2,405.3 257.2,405.6 254.6,407.1 252.7,410.9 254.0,413.3 256.4,414.7 259.3,415.8 262.5,415.7 265.6,415.9 268.5,416.6 271.5,417.5 274.2,418.7 277.1,418.8 280.0,418.6 282.8,419.4 285.6,418.6 288.4,418.5 291.2,418.0 294.1,418.4 297.7,419.8 301.6,420.3 304.0,424.0 307.1,425.9 310.0,428.0 313.2,429.4 315.7,431.5 318.0,434.0 320.3,435.4 322.0,437.5 323.4,439.9 326.0,441.0 323.4,440.7 320.7,441.8 318.1,441.1 315.4,440.2 312.8,440.9 310.1,441.7 307.5,441.4 304.9,440.2 302.2,440.3 299.6,440.7 296.9,440.8 294.3,440.8 291.6,440.9 289.0,440.4 286.4,440.3 283.7,441.1 281.1,440.9 278.4,441.3 275.8,441.5 273.1,440.4 270.5,440.2 267.9,441.3 265.2,440.3 262.6,441.4 259.9,440.7 257.3,440.1 254.7,440.4 252.0,440.7 249.4,440.9 246.7,441.7 244.1,440.2 241.4,441.0 238.8,441.0 236.2,440.4 233.5,440.2 230.9,441.8 228.2,441.4 225.6,441.4 222.9,441.4 220.3,440.8 217.7,440.3 215.0,441.9 212.4,441.8 209.7,441.3 207.1,440.5 204.4,441.0 201.8,441.0 203.3,438.4 205.3,436.1 206.8,433.4 209.9,432.3 212.3,430.1 215.1,428.4 217.1,426.7 217.9,423.9 220.7,422.9 221.6,420.2 223.5,418.4 224.6,415.5 226.8,413.4 228.6,410.7 230.2,407.9" fill="#CCD5D8"/>
<polygon points="397.6,389.2 400.6,389.3 403.4,388.4 405.8,386.2 408.4,384.2 410.8,383.2 413.4,382.6 416.7,383.4 420.1,383.4 422.4,382.0 425.1,381.7 427.7,380.4 430.8,380.6 433.4,379.2 436.8,378.7 440.0,377.3 443.4,376.7 446.8,376.5 450.2,377.1 453.5,375.9 453.4,379.8 455.1,383.4 452.4,384.8 449.5,385.3 446.8,386.7 444.4,387.9 441.5,387.6 439.1,388.7 436.8,390.1 434.7,392.4 431.8,393.4 434.3,395.9 436.8,398.4 434.0,398.2 431.2,398.5 428.4,399.2 425.5,399.4 422.5,398.8 419.7,400.2 416.8,400.1 417.9,403.7 420.1,406.7 421.6,409.0 424.1,410.2 426.5,411.5 428.4,413.4 430.7,414.8 432.8,416.5 435.2,417.8 436.8,420.1 434.1,420.4 431.9,422.0 429.3,422.4 426.8,423.4 424.4,424.8 422.3,426.7 420.1,428.4 419.0,431.5 419.8,434.8 419.5,437.9 418.4,441.0 415.8,441.2 413.2,441.9 410.6,441.4 407.9,440.3 405.3,440.1 402.7,441.1 400.1,440.3 397.5,441.7 394.9,441.8 392.3,440.4 389.7,441.0 387.0,441.6 384.4,440.9 381.8,440.2 379.2,440.6 376.6,441.8 374.0,440.7 371.4,441.8 368.7,440.9 366.1,441.2 363.5,440.6 360.9,440.4 358.3,441.4 355.7,440.6 353.1,441.6 350.5,440.3 347.8,441.7 345.2,440.9 342.6,441.5 340.0,441.0 339.6,438.3 339.0,435.6 339.5,432.8 339.2,430.1 339.1,427.1 340.0,424.1 340.5,421.1 340.0,418.0 343.0,418.4 344.7,416.0 346.5,413.8 348.4,411.7 350.1,409.6 352.6,408.4 354.5,406.6 356.7,405.1 359.7,403.8 362.0,401.3 365.0,400.1 368.3,399.5 371.7,399.3 375.0,398.4 377.6,397.8 379.8,396.0 382.7,396.2 385.1,395.1 387.6,393.1 390.6,392.2 393.4,390.9" fill="#CCD5D8"/>
<polyline points="104.0,239.8 112.0,246.0 116.0,256.0 113.7,258.2" fill="none" stroke="#cfcfcf" stroke-width="0.6" stroke-dasharray="1.5 1"/>
<polyline points="110.3,225.4 122.0,222.0 134.0,224.0 146.0,218.0 152.1,201.6" fill="none" stroke="#cfcfcf" stroke-width="0.6" stroke-dasharray="1.5 1"/>
<polyline points="146.0,218.0 150.0,232.0 147.0,246.0 152.0,258.0 150.0,270.0 154.2,278.9" fill="none" stroke="#cfcfcf" stroke-width="0.6" stroke-dasharray="1.5 1"/>
<polyline points="113.7,258.2 124.0,254.0 136.0,256.0 147.0,246.0" fill="none" stroke="#cfcfcf" stroke-width="0.6" stroke-dasharray="1.5 1"/>
<polyline points="85.6,254.2 90.0,258.0 94.0,261.0" fill="none" stroke="#cfcfcf" stroke-width="0.6" stroke-dasharray="1.5 1"/>
<polyline points="66.7,285.5 60.0,280.0 50.0,282.0 40.0,278.0 31.0,274.5" fill="none" stroke="#cfcfcf" stroke-width="0.6" stroke-dasharray="1.5 1"/>
<polyline points="184.3,272.3 190.0,262.0 198.0,256.0 196.0,244.0 200.0,232.0 198.7,206.2" fill="none" stroke="#cfcfcf" stroke-width="0.6" stroke-dasharray="1.5 1"/>
<polyline points="198.0,256.0 210.0,258.0 220.0,254.0 226.0,249.0" fill="none" stroke="#cfcfcf" stroke-width="0.6" stroke-dasharray="1.5 1"/>
<polyline points="200.3,281.7 212.0,284.0 224.0,280.0 236.0,284.0 248.0,280.0 262.0,283.0" fill="none" stroke="#cfcfcf" stroke-width="0.6" stroke-dasharray="1.5 1"/>
<polyline points="212.5,324.0 222.0,322.0 232.0,318.0 244.0,320.0 256.0,314.0 268.0,312.0 280.0,306.0 288.0,302.0" fill="none" stroke="#cfcfcf" stroke-width="0.6" stroke-dasharray="1.5 1"/>
<polyline points="218.8,343.2 214.0,338.0 211.6,333.4" fill="none" stroke="#cfcfcf" stroke-width="0.6" stroke-dasharray="1.5 1"/>
<polyline points="292.2,345.1 290.0,336.0 294.0,328.0 303.5,328.4" fill="none" stroke="#cfcfcf" stroke-width="0.6" stroke-dasharray="1.5 1"/>
<polyline points="420.4,298.3 432.0,296.0 444.0,300.0 456.0,296.0 468.0,300.0 469.3,304.9" fill="none" stroke="#cfcfcf" stroke-width="0.6" stroke-dasharray="1.5 1"/>
<polyline points="290.3,361.0 289.0,372.0 286.0,382.0 276.0,386.0 266.0,390.0 262.1,400.6" fill="none" stroke="#cfcfcf" stroke-width="0.6" stroke-dasharray="1.5 1"/>
<polyline points="325.1,365.7 330.0,376.0 334.0,388.0 333.0,400.0 340.0,410.0 343.0,418.4" fill="none" stroke="#cfcfcf" stroke-width="0.6" stroke-dasharray="1.5 1"/>
<polyline points="231.0,362.0 222.0,368.0 214.0,380.0 210.1,391.7" fill="none" stroke="#cfcfcf" stroke-width="0.6" stroke-dasharray="1.5 1"/>
<polyline points="345.0,157.0 352.0,166.0 361.0,171.0 369.0,168.0 381.0,170.0 391.0,178.0 404.0,183.0 416.0,180.0 428.0,186.0 437.0,183.0 452.0,181.0 470.0,185.0 491.0,186.0" fill="none" stroke="#c4c4c4" stroke-width="0.7"/>
<polyline points="416.0,157.0 421.0,166.0 417.0,176.0 416.0,180.0" fill="none" stroke="#c4c4c4" stroke-width="0.7"/>
<polyline points="428.0,186.0 433.0,196.0 427.0,204.0 432.0,214.0 440.0,224.0 447.0,236.0 451.0,250.0 453.0,262.0 452.0,270.0" fill="none" stroke="#c4c4c4" stroke-width="0.7"/>
<polyline points="362.0,226.0 372.0,222.0 384.0,224.0 395.0,218.0 400.0,212.0" fill="none" stroke="#c4c4c4" stroke-width="0.7"/>
<polyline points="239.0,157.0 240.0,164.0 246.0,168.0 255.0,170.0 262.0,166.0 274.0,169.7" fill="none" stroke="#c4c4c4" stroke-width="0.7"/>
<polyline points="3.0,205.0 12.0,200.0 22.0,204.0 30.0,198.0 38.0,190.0 44.8,187.0" fill="none" stroke="#c4c4c4" stroke-width="0.7"/>
<polyline points="3.0,300.0 10.0,296.0 20.2,301.0" fill="none" stroke="#c4c4c4" stroke-width="0.7"/>
<polyline points="3.0,371.0 12.0,366.0 22.0,360.0 32.0,352.0 32.7,344.2" fill="none" stroke="#c4c4c4" stroke-width="0.7"/>
<polyline points="32.0,352.0 44.0,358.0 55.0,366.0 62.0,380.0 74.0,392.0 86.0,404.0 90.0,420.0 100.0,432.0 104.0,441.0" fill="none" stroke="#c4c4c4" stroke-width="0.7"/>
<polyline points="62.0,380.0 52.0,392.0 40.0,402.0 28.0,410.0 16.0,418.0 3.0,424.0" fill="none" stroke="#c4c4c4" stroke-width="0.7"/>
<polyline points="100.0,366.0 112.0,372.0 124.0,380.0 138.0,384.0 150.0,371.7" fill="none" stroke="#c4c4c4" stroke-width="0.7"/>
<polyline points="86.0,404.0 100.0,398.0 116.0,402.0 132.0,408.0 150.0,406.0 165.9,405.1" fill="none" stroke="#c4c4c4" stroke-width="0.7"/>
<polyline points="452.0,354.0 452.0,366.0 460.0,372.0 470.0,366.0 482.0,370.0 491.0,378.0" fill="none" stroke="#c4c4c4" stroke-width="0.7"/>
<polyline points="226.0,249.0 229.0,256.0 233.0,262.0 241.0,268.0 248.0,270.0 253.0,277.0 262.0,283.0 272.0,291.0 281.0,298.0 288.0,302.0 297.0,305.0" fill="none" stroke="#CCD5D8" stroke-width="1.3" stroke-linecap="round" stroke-linejoin="round"/>
<polygon points="224.8,224.0 227.0,225.0 227.6,232.0 226.8,240.0 226.4,248.0 224.6,248.0 223.6,238.0 224.0,230.0" fill="#CCD5D8"/>
<polygon points="64.0,189.4 66.9,189.6 69.7,189.1 72.3,187.5 75.2,187.8 77.9,186.6 80.8,186.4 83.5,185.5 86.4,185.4 89.1,186.2 91.9,185.5 94.6,185.9 97.3,185.4 100.0,186.2 100.8,189.4 99.5,192.4 97.6,195.0 97.6,197.7 96.9,200.3 96.8,203.0 99.1,204.7 100.4,207.4 102.4,209.4 102.9,212.8 104.8,215.8 107.5,216.9 109.5,219.0 109.5,222.2 110.3,225.4 109.0,228.0 107.1,230.2 104.0,233.4 104.3,236.6 104.0,239.8 100.9,238.5 97.6,238.2 95.3,240.0 92.8,241.4 89.8,242.6 87.2,244.6 86.5,247.8 86.8,251.1 85.6,254.2 82.0,253.6 78.4,252.6 75.6,250.0 72.0,248.6 69.1,247.7 66.6,246.1 64.0,244.6 61.9,241.4 60.0,238.2 57.8,235.6 55.2,233.4 56.7,230.4 56.8,227.0 55.2,224.1 52.9,221.8 51.2,219.0 50.8,216.2 49.0,214.1 48.3,211.5 46.4,209.4 46.3,206.2 46.3,203.0 45.6,199.8 50.4,199.0 54.4,199.8 57.1,198.7 58.7,195.9 61.6,195.0 62.9,192.3" fill="#C4DCE1" stroke="#C4DCE1" stroke-width="0.7" stroke-linejoin="round"/>
<polygon points="94.0,261.0 96.5,259.7 99.1,258.7 102.0,259.0 104.3,257.0 107.1,256.7 110.2,258.3 113.7,258.2 113.4,261.3 113.1,264.5 112.8,267.6 112.0,270.6 112.8,273.6 112.0,276.6 111.8,279.6 111.8,282.6 112.1,285.6 111.7,288.7 112.9,291.6 113.1,294.6 112.8,297.7 112.4,300.5 112.6,303.4 113.5,306.2 112.8,309.0 113.3,312.9 114.7,316.5 115.1,319.2 116.9,321.4 117.5,324.0 112.8,325.0 109.7,324.7 107.1,323.1 104.2,321.9 101.5,320.3 96.8,319.3 94.2,317.8 92.1,315.6 89.3,313.2 86.4,310.9 85.1,308.0 83.6,305.2 81.0,303.6 78.9,301.4 79.2,297.6 78.0,293.9 77.1,291.0 75.2,288.4 74.2,285.5 76.2,283.2 79.0,282.0 81.7,280.7 83.3,278.0 84.6,275.1 87.1,273.8 89.3,272.0 92.1,271.3 92.2,267.5 93.0,263.8" fill="#C4DCE1" stroke="#C4DCE1" stroke-width="0.7" stroke-linejoin="round"/>
<polygon points="66.7,285.5 70.5,285.3 74.2,285.5 75.2,288.4 77.1,291.0 78.0,293.9 79.2,297.6 78.9,301.4 81.0,303.6 83.6,305.2 85.1,308.0 86.4,310.9 89.3,313.2 92.1,315.6 94.2,317.8 96.8,319.3 97.3,322.6 97.7,325.9 95.6,328.6 94.0,331.5 91.4,333.4 89.4,335.9 86.4,337.2 84.4,340.3 81.7,342.8 81.6,345.6 80.2,347.9 79.3,350.4 80.1,353.2 80.8,356.0 76.1,354.1 74.1,352.1 72.9,349.7 72.2,346.8 70.5,344.7 70.1,342.0 69.4,339.4 67.6,337.2 65.5,334.7 62.9,333.0 60.1,331.5 58.1,329.0 55.3,327.5 52.6,325.9 51.0,323.2 49.4,320.5 46.9,318.4 45.3,316.1 44.6,313.6 44.1,310.9 46.4,308.3 47.9,305.2 50.9,305.4 53.3,303.2 56.3,303.3 58.7,301.8 61.7,301.4 63.9,299.6 64.8,295.9 64.8,292.0 65.9,288.8" fill="#C4DCE1" stroke="#C4DCE1" stroke-width="0.7" stroke-linejoin="round"/>
<polygon points="97.7,325.9 97.3,322.6 96.8,319.3 101.5,320.3 104.2,321.9 107.1,323.1 109.7,324.7 112.8,325.0 117.5,324.0 120.3,327.8 124.1,325.9 127.8,325.0 131.6,324.8 135.4,324.0 139.1,323.5 142.9,323.1 144.4,325.7 146.7,327.8 143.6,329.3 141.0,331.5 137.2,331.6 133.5,332.5 130.2,333.0 126.9,333.4 124.3,334.9 122.2,337.2 119.5,339.4 116.5,341.0 114.1,342.4 113.0,345.0 110.9,346.6 107.8,347.7 104.7,348.6 101.5,349.4 98.4,350.4 95.2,350.7 92.1,351.3 89.5,352.3 87.6,354.3 85.5,356.0 80.8,356.0 80.1,353.2 79.3,350.4 80.2,347.9 81.6,345.6 81.7,342.8 84.4,340.3 86.4,337.2 89.4,335.9 91.4,333.4 94.0,331.5 95.6,328.6" fill="#C4DCE1" stroke="#C4DCE1" stroke-width="0.7" stroke-linejoin="round"/>
<polygon points="154.2,278.9 157.1,278.4 160.0,278.0 162.5,276.2 165.5,276.0 168.1,276.1 170.7,275.5 173.3,274.7 176.0,276.0 178.6,275.1 181.5,273.7 184.3,272.3 185.4,275.3 185.7,278.5 186.2,281.7 190.0,281.5 193.7,282.6 197.1,283.0 200.3,281.7 200.0,285.2 201.4,288.5 201.2,292.0 201.8,295.1 202.0,298.4 203.1,301.4 203.7,304.7 205.0,307.7 205.9,310.9 207.4,313.2 207.8,315.9 208.7,318.4 210.5,321.3 212.5,324.0 211.3,327.0 212.1,330.3 211.6,333.4 209.0,336.0 206.9,339.1 204.5,340.4 202.0,341.4 199.3,341.9 195.5,342.3 191.8,342.8 188.8,342.5 186.2,341.0 182.4,340.4 178.6,341.0 175.9,339.7 173.0,339.1 170.6,337.8 168.3,336.4 165.5,336.3 163.1,334.4 160.7,332.6 157.9,331.5 155.3,329.9 152.3,329.7 149.5,328.8 146.7,327.8 144.9,324.3 144.8,320.3 144.7,317.5 144.4,314.6 143.5,311.9 143.8,309.0 146.0,306.0 146.7,302.4 150.5,301.6 154.2,300.5 155.8,297.1 157.9,293.9 156.0,291.1 154.2,288.3 154.4,285.2 154.4,282.0" fill="#C4DCE1" stroke="#C4DCE1" stroke-width="0.7" stroke-linejoin="round"/>
<polygon points="268.7,250.3 271.9,251.3 275.3,251.3 279.1,251.3 282.8,252.2 285.3,250.2 288.4,249.4 291.2,247.0 294.1,244.7 297.8,245.6 300.0,247.4 302.8,247.7 305.4,248.5 308.9,246.7 312.9,246.6 316.0,247.0 319.2,246.6 322.3,247.5 325.0,250.0 327.9,252.2 328.6,255.8 330.8,258.8 333.2,260.0 335.5,261.6 339.1,261.0 342.0,258.8 341.9,262.7 340.2,266.3 342.7,269.0 344.9,272.0 347.3,273.3 348.1,276.2 350.5,277.6 352.4,279.5 353.9,281.8 355.2,284.2 353.3,286.3 352.4,288.9 351.0,292.1 348.6,294.6 345.7,295.3 343.0,296.4 344.9,300.2 341.2,301.4 337.3,301.1 334.5,302.5 331.7,304.0 328.5,304.7 326.1,306.8 325.7,309.6 324.7,312.4 325.1,315.3 320.4,313.4 317.7,312.2 314.8,311.5 311.8,311.0 309.1,309.6 305.7,309.7 302.5,308.7 300.2,306.8 297.8,304.9 294.2,303.3 290.3,303.0 287.4,303.4 284.7,302.1 283.2,299.1 282.7,296.0 282.8,292.7 281.3,289.9 280.0,287.0 282.0,284.5 282.8,281.4 281.4,278.2 279.0,275.7 276.0,273.5 274.3,270.1 273.5,267.6 272.5,265.1 270.8,263.0 269.6,260.7 267.9,258.1 266.8,255.1" fill="#C4DCE1" stroke="#C4DCE1" stroke-width="0.7" stroke-linejoin="round"/>
<polygon points="230.1,191.7 231.9,189.8 232.5,187.0 234.1,184.9 236.0,183.0 238.4,181.1 241.2,180.5 243.9,179.3 246.5,178.0 249.6,177.7 252.0,176.0 255.0,175.8 257.4,173.9 260.6,174.5 263.4,173.7 266.1,172.8 268.7,171.2 271.4,170.0 274.3,169.7 277.4,171.5 280.9,171.6 283.5,171.3 286.0,170.2 288.6,169.8 291.3,170.0 293.9,169.5 296.6,169.9 299.1,169.1 301.6,168.2 302.6,171.4 302.7,174.7 302.5,178.0 300.4,180.5 299.2,183.6 297.0,186.0 296.0,188.6 294.1,190.7 293.4,194.5 294.1,198.3 295.5,201.9 296.0,205.8 295.2,208.3 293.7,210.7 293.1,213.3 292.2,215.8 291.5,218.3 291.3,220.9 292.0,223.5 292.4,226.2 294.1,228.4 295.7,232.0 296.0,235.9 295.4,239.7 294.1,243.4 292.5,245.6 290.3,247.2 288.4,249.1 285.4,250.1 282.8,251.9 278.9,252.3 275.3,251.0 272.0,251.7 268.7,251.0 266.6,248.5 265.9,245.3 263.4,243.3 260.2,242.5 256.4,245.3 253.5,245.1 250.9,243.8 248.0,243.4 246.8,240.1 244.2,237.8 241.3,237.3 239.4,234.9 236.7,234.0 233.8,231.7 231.0,229.3 228.2,227.0 225.4,224.6 225.4,220.8 226.3,217.1 228.0,214.9 227.5,211.8 229.2,209.6 228.2,205.9 228.2,202.0 228.5,199.4 228.5,196.7 229.0,194.2" fill="#97B8C4" stroke="#97B8C4" stroke-width="0.7" stroke-linejoin="round"/>
<polygon points="218.8,343.2 222.2,343.0 225.0,341.1 228.2,340.3 231.2,340.7 233.8,338.9 236.8,339.4 239.5,338.5 242.0,341.0 245.2,342.2 248.0,342.5 250.8,341.8 253.6,342.4 256.4,342.2 257.9,344.4 260.1,346.2 261.1,348.8 262.8,351.8 264.9,354.5 268.2,354.8 271.5,355.4 274.2,355.0 276.3,352.9 279.0,352.6 281.4,349.7 284.7,347.9 286.9,346.2 289.6,345.7 292.2,345.1 291.4,348.2 292.0,351.4 291.3,354.5 291.6,357.9 290.3,361.0 292.5,362.6 295.4,362.8 297.8,363.9 301.6,363.5 305.4,362.9 308.1,364.1 311.2,364.4 313.9,365.7 316.7,366.7 319.5,366.3 322.3,366.4 325.1,365.7 328.2,366.2 331.1,365.3 334.1,364.8 337.2,365.6 340.2,364.8 341.1,361.5 339.6,358.1 340.5,354.8 340.0,351.4 338.6,348.2 340.9,346.2 343.3,344.4 346.3,343.1 349.5,342.1 352.7,341.6 355.9,341.3 359.0,342.1 362.1,342.5 366.0,342.9 369.6,344.4 370.7,347.0 372.4,349.1 374.3,351.5 377.1,352.9 380.7,352.7 384.2,351.7 386.3,354.2 388.4,356.7 390.1,359.6 391.7,362.5 394.2,365.0 396.7,367.5 399.2,368.3 401.7,369.2 400.8,372.1 400.1,375.0 397.3,376.6 394.2,377.5 395.9,381.7 398.4,385.9 397.6,389.2 393.4,390.9 390.6,392.2 387.6,393.1 385.1,395.1 382.7,396.2 379.8,396.0 377.6,397.8 375.0,398.4 371.7,399.3 368.3,399.5 365.0,400.1 362.0,401.3 359.7,403.8 356.7,405.1 354.5,406.6 352.6,408.4 350.1,409.6 348.4,411.7 346.5,413.8 344.7,416.0 343.0,418.4 340.4,420.8 339.2,424.1 340.0,426.8 340.2,429.7 338.0,426.8 335.5,424.1 332.9,421.7 331.7,418.4 328.0,417.7 324.2,417.5 321.9,418.8 319.1,419.0 316.7,420.3 314.4,418.5 311.4,418.3 309.1,416.5 307.0,418.5 304.3,419.4 301.6,420.3 297.7,419.8 294.1,418.4 291.2,418.0 288.4,418.5 285.6,418.6 282.8,419.4 280.0,418.6 277.1,418.8 274.2,418.7 271.5,417.5 268.5,416.6 265.6,415.9 262.5,415.7 259.3,415.8 256.4,414.7 254.0,413.3 252.7,410.9 254.6,407.1 257.2,405.6 260.2,405.3 262.1,400.6 258.9,400.9 255.8,399.8 252.7,399.6 250.0,398.6 247.8,396.5 245.0,395.8 242.3,394.9 240.0,391.9 238.6,388.3 240.7,386.6 242.6,384.7 245.2,383.6 245.3,380.7 244.2,378.0 241.1,376.3 237.6,376.1 236.2,373.4 237.0,370.3 235.7,367.6 233.7,364.5 231.0,362.0 227.3,360.9 223.5,360.1 222.9,356.3 221.6,352.6 221.4,349.3 219.5,346.4" fill="#97B8C4" stroke="#97B8C4" stroke-width="0.7" stroke-linejoin="round"/>
<polygon points="302.5,168.5 305.6,169.1 308.7,169.7 312.0,169.0 315.1,169.7 316.3,172.4 316.3,175.5 318.0,178.0 319.9,180.4 322.2,182.5 324.2,184.8 326.2,187.2 327.9,189.8 327.7,192.7 327.9,195.5 324.1,196.2 320.4,197.3 322.0,200.7 324.2,203.9 324.2,207.1 325.2,210.1 325.1,213.3 328.2,215.1 331.7,215.2 334.7,216.3 338.0,216.5 341.1,217.1 343.9,219.5 346.8,221.8 349.8,222.8 352.4,224.6 353.9,227.6 353.4,231.1 355.2,234.0 354.9,237.1 354.7,240.3 354.3,243.4 356.4,246.1 358.0,249.1 355.6,251.2 353.4,253.4 350.5,254.7 347.7,255.3 345.5,257.2 343.0,258.5 340.6,259.6 337.9,260.1 335.5,261.3 333.0,259.6 330.8,257.5 328.9,254.4 327.9,251.0 325.2,248.6 322.3,246.3 319.3,245.2 316.1,245.0 312.9,245.3 309.2,246.6 305.4,247.2 303.1,245.8 300.5,245.5 297.8,245.3 294.1,243.4 295.4,239.7 296.0,235.9 295.7,232.0 294.1,228.4 292.4,226.2 292.0,223.5 291.3,220.9 291.5,218.3 292.2,215.8 293.1,213.3 293.7,210.7 295.2,208.3 296.0,205.8 295.5,201.9 294.1,198.3 293.4,194.5 294.1,190.7 296.0,188.6 297.0,186.0 299.2,183.6 300.4,180.5 302.5,178.0 303.2,174.8 302.2,171.7" fill="#6592A6" stroke="#6592A6" stroke-width="0.7" stroke-linejoin="round"/>
<polygon points="340.5,266.3 340.9,263.6 343.1,261.6 343.3,258.8 346.0,258.0 348.4,256.5 350.5,254.7 353.1,254.2 355.8,254.5 358.3,253.2 361.3,251.5 364.0,249.4 367.1,249.5 370.3,250.0 373.4,249.4 376.6,251.2 379.0,254.1 382.1,255.3 385.4,255.5 388.4,256.9 391.7,256.0 394.9,255.1 397.8,253.2 400.4,252.4 402.5,250.8 404.6,249.1 407.2,248.5 408.9,250.8 409.3,253.7 411.0,256.0 413.3,257.4 414.6,259.9 416.6,261.6 418.4,263.6 420.4,265.4 422.3,267.3 422.5,270.1 423.0,272.9 423.2,275.7 422.3,278.2 421.3,280.7 420.4,283.3 420.1,286.0 418.4,288.2 417.6,290.8 418.1,293.5 419.2,295.9 420.4,298.3 416.8,299.6 412.9,299.3 409.1,300.2 410.0,303.0 407.7,305.1 405.8,307.6 403.5,309.6 400.3,311.5 397.8,314.3 394.7,315.1 392.2,317.1 387.5,316.2 387.9,319.5 388.4,322.8 384.6,322.8 380.9,322.8 378.1,324.7 376.8,321.4 375.3,318.1 373.6,315.7 371.4,313.8 369.6,311.5 367.2,310.4 364.8,309.0 362.1,308.7 358.3,307.9 354.6,306.8 351.6,305.1 348.9,303.0 345.8,302.1 343.3,300.2 344.2,295.5 347.4,294.2 350.8,293.6 351.7,290.4 354.0,288.0 355.5,285.2 353.8,282.7 353.0,279.8 350.8,277.6 348.5,275.8 347.4,272.9 345.2,271.0 343.1,268.4" fill="#30708A" stroke="#30708A" stroke-width="0.7" stroke-linejoin="round"/>
<polygon points="387.5,316.2 392.2,317.1 394.7,315.1 397.8,314.3 400.3,311.5 403.5,309.6 405.8,307.6 407.7,305.1 410.0,303.0 409.1,300.2 412.9,299.3 416.8,299.6 420.4,298.3 421.3,301.2 422.3,304.0 424.2,308.7 426.5,310.6 428.9,312.4 428.5,315.3 428.9,318.1 429.8,320.9 430.8,324.0 431.5,327.1 431.7,330.3 435.1,333.3 436.5,336.0 438.4,338.3 440.3,341.4 442.6,344.2 446.2,345.4 449.3,347.5 449.3,350.9 446.3,351.5 443.4,352.5 443.4,356.1 441.8,359.2 439.3,361.0 435.9,360.7 433.4,362.5 432.4,365.1 430.1,366.7 429.4,369.7 429.7,373.0 428.4,375.9 426.2,378.5 425.1,381.7 422.4,382.0 420.1,383.4 416.7,383.4 413.4,382.6 410.8,383.2 408.4,384.2 405.8,386.2 403.4,388.4 400.6,389.3 397.6,389.2 398.4,385.9 395.9,381.7 394.2,377.5 397.3,376.6 400.1,375.0 400.8,372.1 401.7,369.2 399.2,368.3 396.7,367.5 394.2,365.0 391.7,362.5 390.1,359.6 388.4,356.7 386.3,354.2 384.2,351.7 384.8,348.4 385.1,345.0 388.0,344.8 390.9,344.2 392.0,341.2 393.4,338.3 392.5,334.1 392.4,331.3 393.1,328.5 393.5,325.7 393.1,322.8 388.4,322.8 387.9,319.5" fill="#30708A" stroke="#30708A" stroke-width="0.7" stroke-linejoin="round"/>
<polygon points="325.4,304.9 328.5,303.0 332.0,302.1 334.8,301.4 337.6,301.0 340.5,300.9 343.3,300.2 345.8,302.1 348.9,303.0 351.6,305.1 354.6,306.8 358.3,307.9 362.1,308.7 364.8,309.0 367.2,310.4 369.6,311.5 371.4,313.8 373.6,315.7 375.3,318.1 376.8,321.4 378.1,324.7 380.9,322.8 384.6,322.8 388.4,322.8 393.1,322.8 393.5,325.7 393.1,328.5 392.4,331.3 392.5,334.1 393.4,338.3 392.0,341.2 390.9,344.2 388.0,344.8 385.1,345.0 384.8,348.4 384.2,351.7 380.7,352.7 377.1,352.9 374.3,351.5 372.4,349.1 370.7,347.0 369.6,344.4 366.0,342.9 362.1,342.5 359.0,342.1 355.9,341.3 352.7,341.6 349.5,342.1 346.3,343.1 343.3,344.4 340.9,346.2 338.6,348.2 340.0,351.4 340.5,354.8 339.6,358.1 341.1,361.5 340.2,364.8 337.2,365.6 334.1,364.8 331.1,365.3 328.2,366.2 325.1,365.7 322.3,366.4 319.5,366.3 316.7,366.7 313.9,365.7 311.2,364.4 308.1,364.1 305.4,362.9 301.6,363.5 297.8,363.9 295.4,362.8 292.5,362.6 290.3,361.0 291.6,357.9 291.3,354.5 292.0,351.4 291.4,348.2 292.2,345.1 294.8,342.4 297.8,340.3 299.6,337.7 302.1,335.9 304.4,333.8 303.2,331.2 303.5,328.4 304.1,324.5 305.6,320.9 307.7,318.4 308.5,315.3 311.3,313.8 314.1,312.4 318.8,313.4 321.9,313.7 324.5,315.3 323.9,312.6 324.8,310.1 325.3,307.5" fill="#184E6E" stroke="#184E6E" stroke-width="0.7" stroke-linejoin="round"/>
<polyline points="74.2,285.5 75.2,288.4 77.1,291.0 78.0,293.9 79.2,297.6 78.9,301.4 81.0,303.6 83.6,305.2 85.1,308.0 86.4,310.9 89.3,313.2 92.1,315.6 94.2,317.8 96.8,319.3 97.3,322.6 97.7,325.9 95.6,328.6 94.0,331.5 91.4,333.4 89.4,335.9 86.4,337.2 84.4,340.3 81.7,342.8 81.6,345.6 80.2,347.9 79.3,350.4" fill="none" stroke="#7f9aa5" stroke-opacity="0.55" stroke-width="0.6"/>
<polyline points="96.8,319.3 101.5,320.3 104.2,321.9 107.1,323.1 109.7,324.7 112.8,325.0 117.5,324.0" fill="none" stroke="#7f9aa5" stroke-opacity="0.55" stroke-width="0.6"/>
<polyline points="387.5,316.2 392.2,317.1 394.7,315.1 397.8,314.3 400.3,311.5 403.5,309.6 405.8,307.6 407.7,305.1 410.0,303.0 409.1,300.2 412.9,299.3 416.8,299.6 420.4,298.3" fill="none" stroke="#7f9aa5" stroke-opacity="0.55" stroke-width="0.6"/>
<polyline points="290.3,361.0 290.6,363.8 289.8,366.5 289.7,369.3 289.0,372.0 287.4,374.3 287.8,377.1 285.9,379.2 286.0,382.0 283.2,382.4 280.8,383.4 278.7,385.6 276.0,386.0 273.8,387.6 271.0,388.1 268.7,389.5 266.0,390.0 264.8,392.6 263.6,395.1 263.5,398.1 262.1,400.6" fill="none" stroke="#7f9aa5" stroke-opacity="0.55" stroke-width="0.6"/>
<polyline points="325.1,365.7 325.8,368.5 327.5,370.9 328.2,373.7 330.0,376.0 331.3,378.9 332.1,382.0 333.7,384.8 334.0,388.0 332.9,390.9 333.7,394.0 333.1,397.0 333.0,400.0 334.8,402.4 336.6,405.0 338.8,407.1 340.0,410.0 340.2,413.1 342.8,415.3 343.0,418.4" fill="none" stroke="#7f9aa5" stroke-opacity="0.55" stroke-width="0.6"/>
<polyline points="48.0,157.4 45.3,159.2 43.1,161.7 40.0,163.0 38.3,165.8 36.5,168.5 34.4,171.0 37.3,172.0 40.0,173.4 42.1,175.8 43.6,178.8 46.4,180.6 46.2,184.0 44.8,187.0 45.0,190.2 43.7,193.4 44.0,196.6 45.6,199.8 46.3,203.0 46.3,206.2 46.4,209.4 48.3,211.5 49.0,214.1 50.8,216.2 51.2,219.0 52.9,221.8 55.2,224.1 56.8,227.0 56.7,230.4 55.2,233.4 57.8,235.6 60.0,238.2 61.9,241.4 64.0,244.6 62.0,248.0 59.0,249.2 55.8,249.8 52.8,251.0 50.6,252.6 48.5,254.4 46.5,256.4 44.8,258.6 42.0,259.6 40.4,262.0 38.1,263.6 37.4,266.3 35.1,267.8 34.2,270.4 33.3,272.9 31.0,274.5 30.2,277.6 28.3,280.2 26.0,282.5 24.8,285.4 24.8,288.2 23.1,290.5 22.1,293.1 21.0,295.6 20.2,298.2 20.2,301.0 22.4,304.1 24.8,307.0 21.6,307.7 18.4,308.3 15.5,310.0 15.1,313.2 13.4,316.2 12.4,319.3 12.4,322.6 10.3,324.6 8.2,326.5 5.8,327.9 3.1,328.9 6.1,329.9 9.1,330.7 11.9,332.3 14.5,333.9 15.9,336.7 17.8,338.9 20.3,340.5 22.3,342.7 25.0,342.6 27.5,343.2 30.1,343.9 32.7,344.2 35.8,344.4 38.8,345.1 41.5,346.7 44.6,347.1 47.6,347.0 50.5,347.9 53.5,348.8 56.6,347.4 59.5,348.6 62.3,349.6 64.9,350.8 67.2,352.9 70.5,352.9 72.9,354.6 75.6,354.7 78.1,355.8 80.8,356.0 85.5,356.0 87.6,354.3 89.5,352.3 92.1,351.3 95.2,350.7 98.4,350.4 101.5,349.4 104.7,348.6 107.8,347.7 110.9,346.6 113.0,345.0 114.1,342.4 116.5,341.0 119.5,339.4 122.2,337.2 124.3,334.9 126.9,333.4 128.4,335.0 130.0,337.9 133.0,339.6 135.3,342.0 136.7,345.0 137.8,347.7 138.7,350.5 140.2,353.0 141.0,355.9 142.5,358.4 143.3,361.4 145.3,363.8 147.3,366.2 148.4,369.1 150.0,371.7 151.9,373.5 152.9,376.1 154.8,377.9 157.0,379.4 158.4,381.7 160.0,384.1 160.8,387.0 163.1,389.0 164.2,391.7 165.2,394.3 165.5,397.0 165.5,399.7 164.9,402.5 165.9,405.1 165.7,408.1 164.6,411.0 164.0,414.0 164.3,417.1 164.2,420.1 163.9,422.7 163.6,425.4 163.7,428.1 163.7,430.7 163.4,433.4 163.5,437.4 165.0,441.0" fill="none" stroke="#a6a6a6" stroke-width="0.9" stroke-linejoin="round"/>
<polyline points="64.0,189.4 66.9,189.6 69.7,189.1 72.3,187.5 75.2,187.8 77.9,186.6 80.8,186.4 83.5,185.5 86.4,185.4 89.1,186.2 91.9,185.5 94.6,185.9 97.3,185.4 100.0,186.2 102.5,189.2 105.1,190.4 108.1,189.6 110.5,191.8 113.4,191.3 116.1,192.1 119.0,191.8 121.4,193.7 124.2,193.8 127.0,193.1 129.6,193.9 132.4,194.1 135.1,193.9 137.8,194.5 140.4,195.9 143.1,195.9 145.9,195.4 147.5,197.9 150.3,199.2 152.1,201.6 155.2,201.4 158.2,200.0 161.5,200.8 164.5,200.0 166.8,201.5 169.7,201.4 172.1,202.4 174.6,203.6 177.0,204.7 179.8,202.9 183.5,203.4 186.3,201.6 188.9,202.1 191.2,203.7 193.9,203.9 196.0,206.0 198.7,206.2 201.8,205.7 204.8,204.7 208.0,205.5 211.1,204.7 213.4,206.6 216.4,207.2 218.2,209.8 220.7,211.3 223.5,212.4 225.6,215.0 228.2,217.1 228.0,214.1 227.7,211.1 227.4,208.0 228.9,205.0 228.2,202.0 228.5,199.4 228.5,196.7 229.0,194.2 230.1,191.7 231.9,189.8 232.5,187.0 234.1,184.9 236.0,183.0 238.4,181.1 241.2,180.5 243.9,179.3 246.5,178.0 249.6,177.7 252.0,176.0 255.0,175.8 257.4,173.9 260.6,174.5 263.4,173.7 266.1,172.8 268.7,171.2 271.4,170.0 274.3,169.7 277.4,171.5 280.9,171.6 283.5,171.3 286.0,170.2 288.6,169.8 291.3,170.0 293.9,169.5 296.6,169.9 299.1,169.1 301.6,168.2 304.3,168.7 307.0,169.1 309.6,169.9 312.4,169.6 315.1,169.7 316.3,172.4 316.3,175.5 318.0,178.0 319.9,180.4 322.2,182.5 324.2,184.8 326.2,187.2 327.9,189.8 327.7,192.7 327.9,195.5 324.1,196.2 320.4,197.3 322.0,200.7 324.2,203.9 324.2,207.1 325.2,210.1 325.1,213.3 328.2,215.1 331.7,215.2 334.7,216.3 338.0,216.5 341.1,217.1 343.9,219.5 346.8,221.8 349.8,222.8 352.4,224.6 353.9,227.6 353.4,231.1 355.2,234.0 354.9,237.1 354.7,240.3 354.3,243.4 356.4,246.1 358.0,249.1 358.3,253.2 361.3,251.5 364.0,249.4 367.1,249.5 370.3,250.0 373.4,249.4 376.6,251.2 379.0,254.1 382.1,255.3 385.4,255.5 388.4,256.9 391.7,256.0 394.9,255.1 397.8,253.2 400.4,252.4 402.5,250.8 404.6,249.1 407.2,248.5 408.9,250.8 409.3,253.7 411.0,256.0 413.3,257.4 414.6,259.9 416.6,261.6 418.4,263.6 420.4,265.4 422.3,267.3 424.8,266.1 427.2,264.6 429.8,263.5 432.1,264.8 434.9,265.1 436.6,267.6 439.2,268.2 442.4,267.8 445.4,269.1 448.6,269.2 450.4,272.5 453.3,274.8 455.6,276.6 458.4,277.4 461.1,278.3 463.7,279.5 466.4,280.8 468.8,282.4 471.6,283.5 474.0,285.2 477.8,284.2 476.8,287.5 475.9,290.8 477.0,293.3 478.3,295.6 478.7,298.3 476.1,299.6 473.6,301.1 471.5,303.1 469.3,304.9 466.8,307.3 465.6,310.6 468.7,311.1 471.7,312.5 475.0,312.4 472.4,314.5 470.3,317.1 470.6,320.4 470.3,323.7 470.9,326.3 472.5,328.7 472.9,331.4 473.1,334.1 473.1,337.4 472.4,340.5 471.2,343.5 470.1,346.5 469.8,349.7 469.3,352.9 465.6,353.4 461.8,353.4 458.8,352.1 455.6,351.7 452.5,351.0 449.3,350.9" fill="none" stroke="#a6a6a6" stroke-width="0.9" stroke-linejoin="round"/>
<polyline points="128.0,332.3 130.7,332.5 133.5,332.5 137.2,331.6 141.0,331.5 143.6,329.3 146.7,327.8 149.5,328.8 152.3,329.7 155.3,329.9 157.9,331.5 160.7,332.6 163.1,334.4 165.5,336.3 168.3,336.4 170.6,337.8 173.0,339.1 175.9,339.7 178.6,341.0 181.7,343.3 184.7,344.6 187.4,346.5 190.1,348.4 190.7,351.4 190.8,354.4 191.2,357.4 190.0,360.4 190.9,363.4 192.9,365.8 195.9,367.2 197.9,369.5 200.1,371.7 200.9,374.6 201.0,377.5 201.4,380.4 200.9,383.4 203.6,385.0 205.3,387.7 207.9,389.5 210.1,391.7 210.1,395.1 211.2,398.3 210.9,401.7 213.0,405.0 215.9,407.6 212.9,407.9 209.8,407.8 206.8,408.4 203.3,408.1 200.1,406.7 197.0,405.1 193.4,405.1 190.7,405.9 187.8,405.0 185.1,405.9 186.1,408.6 185.5,411.4 185.7,414.1 185.9,416.8 184.7,419.5 183.5,422.1 183.4,425.1 180.6,427.3 178.4,430.1 176.5,432.7 175.6,436.0 173.4,438.4 172.0,441.0" fill="none" stroke="#a6a6a6" stroke-width="0.9" stroke-linejoin="round"/>
<g font-family="Liberation Sans, sans-serif" text-anchor="middle" paint-order="stroke" stroke-linejoin="round">
<text x="47.2" y="176.5" font-size="7.3" textLength="15.8" lengthAdjust="spacingAndGlyphs" fill="#828282" stroke="#f6f6f6" stroke-opacity="0.9" stroke-width="1.3">Brest</text>
<circle cx="46.9" cy="179.5" r="1.15" fill="#6a6a6a" stroke="#fff" stroke-width="0.7"/>
<text x="239" y="162.5" font-size="7.3" textLength="19.6" lengthAdjust="spacingAndGlyphs" fill="#828282" stroke="#f6f6f6" stroke-opacity="0.9" stroke-width="1.3">Homel</text>
<circle cx="239" cy="166.5" r="1.15" fill="#6a6a6a" stroke="#fff" stroke-width="0.7"/>
<text x="18" y="212" font-size="7.3" textLength="18.1" lengthAdjust="spacingAndGlyphs" fill="#828282" stroke="#f6f6f6" stroke-opacity="0.9" stroke-width="1.3">Lublin</text>
<circle cx="17.5" cy="215.5" r="1.15" fill="#6a6a6a" stroke="#fff" stroke-width="0.7"/>
<text x="73.9" y="214.5" font-size="7.3" textLength="17.0" lengthAdjust="spacingAndGlyphs" fill="#a4a4a4" stroke="#f6f6f6" stroke-opacity="0.9" stroke-width="1.3">Kovel</text>
<circle cx="73.5" cy="217.5" r="1.15" fill="#6a6a6a" stroke="#fff" stroke-width="0.7"/>
<text x="90" y="233" font-size="7.3" textLength="16.2" lengthAdjust="spacingAndGlyphs" fill="#a4a4a4" stroke="#f6f6f6" stroke-opacity="0.9" stroke-width="1.3">Lutsk</text>
<circle cx="90" cy="237" r="1.15" fill="#6a6a6a" stroke="#fff" stroke-width="0.7"/>
<text x="114.3" y="238.5" font-size="7.3" textLength="17.4" lengthAdjust="spacingAndGlyphs" fill="#828282" stroke="#f6f6f6" stroke-opacity="0.9" stroke-width="1.3">Rivne</text>
<circle cx="114.3" cy="242" r="1.15" fill="#6a6a6a" stroke="#fff" stroke-width="0.7"/>
<text x="61.2" y="248.2" font-size="7.3" textLength="34.7" lengthAdjust="spacingAndGlyphs" fill="#a4a4a4" stroke="#f6f6f6" stroke-opacity="0.9" stroke-width="1.3">Sheptytskyi</text>
<circle cx="61" cy="251" r="1.15" fill="#6a6a6a" stroke="#fff" stroke-width="0.7"/>
<text x="56.5" y="270.2" font-size="7.3" textLength="12.1" lengthAdjust="spacingAndGlyphs" fill="#828282" stroke="#f6f6f6" stroke-opacity="0.9" stroke-width="1.3">Lviv</text>
<circle cx="56" cy="273.5" r="1.15" fill="#6a6a6a" stroke="#fff" stroke-width="0.7"/>
<text x="177.6" y="254" font-size="7.3" textLength="28.3" lengthAdjust="spacingAndGlyphs" fill="#828282" stroke="#f6f6f6" stroke-opacity="0.9" stroke-width="1.3">Zhytomyr</text>
<circle cx="177" cy="257.5" r="1.15" fill="#6a6a6a" stroke="#fff" stroke-width="0.7"/>
<text x="217.3" y="246.8" font-size="7.3" textLength="12.8" lengthAdjust="spacingAndGlyphs" fill="#828282" stroke="#f6f6f6" stroke-opacity="0.9" stroke-width="1.3">Kyiv</text>
<circle cx="226" cy="248.5" r="1.15" fill="#6a6a6a" stroke="#fff" stroke-width="0.7"/>
<text x="215.5" y="272.8" font-size="7.3" textLength="36.5" lengthAdjust="spacingAndGlyphs" fill="#828282" stroke="#f6f6f6" stroke-opacity="0.9" stroke-width="1.3">Bila Tserkva</text>
<circle cx="215.5" cy="276" r="1.15" fill="#6a6a6a" stroke="#fff" stroke-width="0.7"/>
<text x="42.5" y="290.8" font-size="7.3" textLength="32.8" lengthAdjust="spacingAndGlyphs" fill="#a4a4a4" stroke="#f6f6f6" stroke-opacity="0.9" stroke-width="1.3">Drohobych</text>
<circle cx="42" cy="294" r="1.15" fill="#6a6a6a" stroke="#fff" stroke-width="0.7"/>
<text x="133.5" y="287.8" font-size="7.3" textLength="40.0" lengthAdjust="spacingAndGlyphs" fill="#828282" stroke="#f6f6f6" stroke-opacity="0.9" stroke-width="1.3">Khmelnytskyi</text>
<circle cx="133.5" cy="291.5" r="1.15" fill="#6a6a6a" stroke="#fff" stroke-width="0.7"/>
<text x="172" y="295" font-size="7.3" textLength="27.4" lengthAdjust="spacingAndGlyphs" fill="#828282" stroke="#f6f6f6" stroke-opacity="0.9" stroke-width="1.3">Vinnytsia</text>
<circle cx="172" cy="298.5" r="1.15" fill="#6a6a6a" stroke="#fff" stroke-width="0.7"/>
<text x="65.2" y="303.2" font-size="7.3" textLength="20.8" lengthAdjust="spacingAndGlyphs" fill="#a4a4a4" stroke="#f6f6f6" stroke-opacity="0.9" stroke-width="1.3">Kalush</text>
<circle cx="65" cy="306.5" r="1.15" fill="#6a6a6a" stroke="#fff" stroke-width="0.7"/>
<text x="301.2" y="302.3" font-size="7.3" textLength="38.1" lengthAdjust="spacingAndGlyphs" fill="#828282" stroke="#f6f6f6" stroke-opacity="0.9" stroke-width="1.3">Kremenchuk</text>
<circle cx="301" cy="305.5" r="1.15" fill="#6a6a6a" stroke="#fff" stroke-width="0.7"/>
<text x="271.7" y="324.3" font-size="7.3" textLength="41.9" lengthAdjust="spacingAndGlyphs" fill="#828282" stroke="#f6f6f6" stroke-opacity="0.9" stroke-width="1.3">Kropyvnytskyi</text>
<circle cx="272" cy="327.5" r="1.15" fill="#6a6a6a" stroke="#fff" stroke-width="0.7"/>
<text x="106.2" y="333" font-size="7.3" textLength="30.2" lengthAdjust="spacingAndGlyphs" fill="#828282" stroke="#f6f6f6" stroke-opacity="0.9" stroke-width="1.3">Chernivtsi</text>
<circle cx="106" cy="336" r="1.15" fill="#6a6a6a" stroke="#fff" stroke-width="0.7"/>
<text x="246.8" y="202.4" font-size="7.3" textLength="28.7" lengthAdjust="spacingAndGlyphs" fill="#8d9ca3" stroke="#fff" stroke-opacity="0.85" stroke-width="1.6">Chernihiv</text>
<circle cx="246.5" cy="205.5" r="1.15" fill="#6a6a6a" stroke="#fff" stroke-width="0.7"/>
<text x="374.3" y="192.2" font-size="7.3" textLength="17.4" lengthAdjust="spacingAndGlyphs" fill="#828282" stroke="#f6f6f6" stroke-opacity="0.9" stroke-width="1.3">Kursk</text>
<circle cx="374" cy="195.5" r="1.15" fill="#6a6a6a" stroke="#fff" stroke-width="0.7"/>
<text x="452.8" y="194.8" font-size="7.3" textLength="28.7" lengthAdjust="spacingAndGlyphs" fill="#828282" stroke="#f6f6f6" stroke-opacity="0.9" stroke-width="1.3">Voronezh</text>
<circle cx="453" cy="198.5" r="1.15" fill="#6a6a6a" stroke="#fff" stroke-width="0.7"/>
<text x="417" y="211" font-size="7.3" textLength="35.1" lengthAdjust="spacingAndGlyphs" fill="#828282" stroke="#f6f6f6" stroke-opacity="0.9" stroke-width="1.3">Stary Oskol</text>
<circle cx="417.4" cy="214" r="1.15" fill="#6a6a6a" stroke="#fff" stroke-width="0.7"/>
<text x="460.9" y="224.2" font-size="7.3" textLength="13.6" lengthAdjust="spacingAndGlyphs" fill="#a4a4a4" stroke="#f6f6f6" stroke-opacity="0.9" stroke-width="1.3">Liski</text>
<circle cx="461" cy="227" r="1.15" fill="#6a6a6a" stroke="#fff" stroke-width="0.7"/>
<text x="384.7" y="239.8" font-size="7.3" textLength="27.2" lengthAdjust="spacingAndGlyphs" fill="#828282" stroke="#f6f6f6" stroke-opacity="0.9" stroke-width="1.3">Belgorod</text>
<circle cx="384.5" cy="243" r="1.15" fill="#6a6a6a" stroke="#fff" stroke-width="0.7"/>
<text x="462.2" y="256.5" font-size="7.3" textLength="26.4" lengthAdjust="spacingAndGlyphs" fill="#a4a4a4" stroke="#f6f6f6" stroke-opacity="0.9" stroke-width="1.3">Rossosh</text>
<circle cx="462" cy="259.5" r="1.15" fill="#6a6a6a" stroke="#fff" stroke-width="0.7"/>
<text x="338" y="226.6" font-size="7.3" textLength="17.4" lengthAdjust="spacingAndGlyphs" fill="#8d9ca3" stroke="#fff" stroke-opacity="0.85" stroke-width="1.6">Sumy</text>
<circle cx="338" cy="230.5" r="1.15" fill="#6a6a6a" stroke="#fff" stroke-width="0.7"/>
<text x="375.3" y="263.8" font-size="7.3" textLength="22.6" lengthAdjust="spacingAndGlyphs" fill="#8d9ca3" stroke="#fff" stroke-opacity="0.85" stroke-width="1.6">Kharkiv</text>
<circle cx="375" cy="268" r="1.15" fill="#6a6a6a" stroke="#fff" stroke-width="0.7"/>
<text x="331" y="281" font-size="7.3" textLength="22.6" lengthAdjust="spacingAndGlyphs" fill="#828282" stroke="#f6f6f6" stroke-opacity="0.9" stroke-width="1.3">Poltava</text>
<circle cx="331" cy="284.5" r="1.15" fill="#6a6a6a" stroke="#fff" stroke-width="0.7"/>
<text x="434.5" y="307" font-size="7.3" textLength="48.3" lengthAdjust="spacingAndGlyphs" fill="#a4a4a4" stroke="#f6f6f6" stroke-opacity="0.9" stroke-width="1.3">Sievierodonetsk</text>
<circle cx="434.5" cy="310" r="1.15" fill="#6a6a6a" stroke="#fff" stroke-width="0.7"/>
<text x="455.2" y="322" font-size="7.3" textLength="25.7" lengthAdjust="spacingAndGlyphs" fill="#828282" stroke="#f6f6f6" stroke-opacity="0.9" stroke-width="1.3">Luhansk</text>
<circle cx="455.5" cy="325.2" r="1.15" fill="#6a6a6a" stroke="#fff" stroke-width="0.7"/>
<text x="344.2" y="325.6" font-size="7.3" textLength="20.0" lengthAdjust="spacingAndGlyphs" fill="#8d9ca3" stroke="#fff" stroke-opacity="0.85" stroke-width="1.6">Dnipro</text>
<circle cx="344" cy="329" r="1.15" fill="#6a6a6a" stroke="#fff" stroke-width="0.7"/>
<text x="416.7" y="343.4" font-size="7.3" textLength="24.9" lengthAdjust="spacingAndGlyphs" fill="#8d9ca3" stroke="#fff" stroke-opacity="0.85" stroke-width="1.6">Donetsk</text>
<circle cx="416.5" cy="346.8" r="1.15" fill="#6a6a6a" stroke="#fff" stroke-width="0.7"/>
<text x="346.1" y="350" font-size="7.3" textLength="38.9" lengthAdjust="spacingAndGlyphs" fill="#8d9ca3" stroke="#fff" stroke-opacity="0.85" stroke-width="1.6">Zaporizhzhia</text>
<circle cx="346" cy="353" r="1.15" fill="#6a6a6a" stroke="#fff" stroke-width="0.7"/>
<text x="479.3" y="355.8" font-size="7.3" textLength="24.5" lengthAdjust="spacingAndGlyphs" fill="#828282" stroke="#f6f6f6" stroke-opacity="0.9" stroke-width="1.3">Shakhty</text>
<circle cx="479.7" cy="359" r="1.15" fill="#6a6a6a" stroke="#fff" stroke-width="0.7"/>
<text x="466.8" y="373.8" font-size="7.3" textLength="45.7" lengthAdjust="spacingAndGlyphs" fill="#828282" stroke="#f6f6f6" stroke-opacity="0.9" stroke-width="1.3">Rostov-on-Don</text>
<circle cx="466.3" cy="378" r="1.15" fill="#6a6a6a" stroke="#fff" stroke-width="0.7"/>
<text x="409.7" y="379.4" font-size="7.3" textLength="26.0" lengthAdjust="spacingAndGlyphs" fill="#8d9ca3" stroke="#fff" stroke-opacity="0.85" stroke-width="1.6">Mariupol</text>
<circle cx="409.7" cy="382.5" r="1.15" fill="#6a6a6a" stroke="#fff" stroke-width="0.7"/>
<text x="353" y="389.2" font-size="7.3" textLength="27.2" lengthAdjust="spacingAndGlyphs" fill="#828282" stroke="#f6f6f6" stroke-opacity="0.9" stroke-width="1.3">Melitopol</text>
<circle cx="353" cy="392.5" r="1.15" fill="#6a6a6a" stroke="#fff" stroke-width="0.7"/>
<text x="327.4" y="361.6" font-size="7.3" textLength="22.6" lengthAdjust="spacingAndGlyphs" fill="#8d9ca3" stroke="#fff" stroke-opacity="0.85" stroke-width="1.6">Nikopol</text>
<circle cx="327.4" cy="365" r="1.15" fill="#6a6a6a" stroke="#fff" stroke-width="0.7"/>
<text x="264.5" y="383.6" font-size="7.3" textLength="26.4" lengthAdjust="spacingAndGlyphs" fill="#828282" stroke="#f6f6f6" stroke-opacity="0.9" stroke-width="1.3">Mykolaiv</text>
<circle cx="264.5" cy="387" r="1.15" fill="#6a6a6a" stroke="#fff" stroke-width="0.7"/>
<text x="231.4" y="402" font-size="7.3" textLength="20.0" lengthAdjust="spacingAndGlyphs" fill="#828282" stroke="#f6f6f6" stroke-opacity="0.9" stroke-width="1.3">Odesa</text>
<circle cx="231.4" cy="405.5" r="1.15" fill="#6a6a6a" stroke="#fff" stroke-width="0.7"/>
<text x="157.7" y="353.2" font-size="7.3" textLength="13.2" lengthAdjust="spacingAndGlyphs" fill="#828282" stroke="#f6f6f6" stroke-opacity="0.9" stroke-width="1.3">Bălți</text>
<circle cx="158" cy="356.5" r="1.15" fill="#6a6a6a" stroke="#fff" stroke-width="0.7"/>
<text x="125.6" y="354.6" font-size="7.3" textLength="26.4" lengthAdjust="spacingAndGlyphs" fill="#a4a4a4" stroke="#f6f6f6" stroke-opacity="0.9" stroke-width="1.3">Botoșani</text>
<circle cx="125.5" cy="357.5" r="1.15" fill="#6a6a6a" stroke="#fff" stroke-width="0.7"/>
<text x="150.3" y="377" font-size="7.3" textLength="10.6" lengthAdjust="spacingAndGlyphs" fill="#828282" stroke="#f6f6f6" stroke-opacity="0.9" stroke-width="1.3">Iași</text>
<circle cx="149" cy="379.5" r="1.15" fill="#6a6a6a" stroke="#fff" stroke-width="0.7"/>
<text x="44" y="358" font-size="7.3" textLength="30.9" lengthAdjust="spacingAndGlyphs" fill="#828282" stroke="#f6f6f6" stroke-opacity="0.9" stroke-width="1.3">Baia Mare</text>
<circle cx="44" cy="361" r="1.15" fill="#6a6a6a" stroke="#fff" stroke-width="0.7"/>
<text x="44.6" y="392" font-size="7.3" textLength="37.4" lengthAdjust="spacingAndGlyphs" fill="#828282" stroke="#f6f6f6" stroke-opacity="0.9" stroke-width="1.3">Cluj-Napoca</text>
<circle cx="44.6" cy="395" r="1.15" fill="#6a6a6a" stroke="#fff" stroke-width="0.7"/>
<text x="131.5" y="399.5" font-size="7.3" textLength="19.2" lengthAdjust="spacingAndGlyphs" fill="#828282" stroke="#f6f6f6" stroke-opacity="0.9" stroke-width="1.3">Bacău</text>
<circle cx="131.5" cy="402.5" r="1.15" fill="#6a6a6a" stroke="#fff" stroke-width="0.7"/>
<text x="161.6" y="441.5" font-size="7.3" textLength="17.7" lengthAdjust="spacingAndGlyphs" fill="#a4a4a4" stroke="#f6f6f6" stroke-opacity="0.9" stroke-width="1.3">Galați</text>
<text x="11.8" y="319.8" font-size="7.3" textLength="24.5" lengthAdjust="spacingAndGlyphs" fill="#a4a4a4" stroke="#f6f6f6" stroke-opacity="0.9" stroke-width="1.3">zh​horod</text>
<circle cx="11" cy="322.5" r="1.15" fill="#6a6a6a" stroke="#fff" stroke-width="0.7"/>
<text x="9.3" y="263" font-size="7.3" textLength="15.5" lengthAdjust="spacingAndGlyphs" fill="#a4a4a4" stroke="#f6f6f6" stroke-opacity="0.9" stroke-width="1.3">szów</text>
<circle cx="4" cy="266" r="1.15" fill="#6a6a6a" stroke="#fff" stroke-width="0.7"/>
<text x="247.1" y="295.5" font-size="11.5" textLength="38.4" lengthAdjust="spacingAndGlyphs" fill="#5f5f5f" stroke="#f6f6f6" stroke-opacity="0.9" stroke-width="1.5">Ukraine</text>
<text x="175" y="380.5" font-size="9.5" textLength="34.8" lengthAdjust="spacingAndGlyphs" fill="#5f5f5f" stroke="#f6f6f6" stroke-opacity="0.9" stroke-width="1.5">Moldova</text>
<text x="81" y="431.3" font-size="10.5" textLength="40.8" lengthAdjust="spacingAndGlyphs" fill="#5f5f5f" stroke="#f6f6f6" stroke-opacity="0.9" stroke-width="1.5">Romania</text>
</g>
<g><circle cx="11.6" cy="431" r="5.2" fill="none" stroke="#fff" stroke-opacity="0.9" stroke-width="2.4"/><circle cx="11.6" cy="431" r="5.2" fill="none" stroke="#9c9c9c" stroke-width="1.1"/><circle cx="12.4" cy="430.2" r="1.9" fill="#9c9c9c"/><text x="19" y="434.6" font-family="Liberation Sans, sans-serif" font-weight="bold" font-size="9.6" textLength="33.5" lengthAdjust="spacingAndGlyphs" fill="#fff" fill-opacity="0.9" stroke="#a0a0a0" stroke-width="0.8" paint-order="stroke">mapbox</text></g>
<rect x="339.2" y="430.1" width="152" height="11" fill="#fff" fill-opacity="0.55"/>
<text x="342.5" y="438" font-family="Liberation Sans, sans-serif" font-size="7.3" textLength="88" lengthAdjust="spacingAndGlyphs" fill="#3a3a3a">© Mapbox © OpenStreetMap</text>
<text x="433.3" y="438" font-family="Liberation Sans, sans-serif" font-size="7.3" font-weight="bold" textLength="54.5" lengthAdjust="spacingAndGlyphs" fill="#2a2a2a">Improve this map</text>
</g>
<path d="M717.8,567.1 L717.80,509.40 A57.7,57.7 0 0 1 742.84,619.09 Z" fill="#1A4E6D"/>
<path d="M717.8,567.1 L742.84,619.09 A57.7,57.7 0 0 1 661.55,579.94 Z" fill="#3F9B9B"/>
<path d="M717.8,567.1 L661.55,579.94 A57.7,57.7 0 0 1 672.69,531.12 Z" fill="#52B9AB"/>
<path d="M717.8,567.1 L672.69,531.12 A57.7,57.7 0 0 1 717.80,509.40 Z" fill="#555965"/>
<polyline points="683.4,507.7 689.8,507.7 693.2,512.8" fill="none" stroke="#c8c8c8" stroke-width="0.8"/>
<polyline points="648.3,551.7 658,551.7 661,554.2" fill="none" stroke="#c8c8c8" stroke-width="0.8"/>
<polyline points="777.800,554.2 780.800,551.7 788,551.7" fill="none" stroke="#c8c8c8" stroke-width="0.8"/>
<polyline points="683.4,624.5 689.800,624.5 692.700,620.700" fill="none" stroke="#c8c8c8" stroke-width="0.8"/>
<rect x="939.9" y="37.5" width="1.6" height="652" fill="#41A1A0"/>
<polyline points="1043.8,100.5 1047.8,104.5 1051.8,100.5" fill="none" stroke="#777" stroke-width="0.9"/>
<polyline points="1043.8,142.3 1047.8,146.3 1051.8,142.3" fill="none" stroke="#777" stroke-width="0.9"/>
<polyline points="1043.8,183.2 1047.8,187.2 1051.8,183.2" fill="none" stroke="#777" stroke-width="0.9"/>
<polyline points="1043.2,252.3 1047.2,256.3 1051.2,252.3" fill="none" stroke="#777" stroke-width="0.9"/>
<polyline points="1043,295.3 1047,299.3 1051,295.3" fill="none" stroke="#777" stroke-width="0.9"/>
<polyline points="1043,337.3 1047,341.3 1051,337.3" fill="none" stroke="#777" stroke-width="0.9"/>
<polyline points="1043,378.2 1047,382.2 1051,378.2" fill="none" stroke="#777" stroke-width="0.9"/>
<polyline points="1043,446.9 1047,450.9 1051,446.9" fill="none" stroke="#777" stroke-width="0.9"/>
<polyline points="1043,489.1 1047,493.1 1051,489.1" fill="none" stroke="#777" stroke-width="0.9"/>
<polyline points="1043,531.2 1047,535.2 1051,531.2" fill="none" stroke="#777" stroke-width="0.9"/>
<polyline points="1043,571.7 1047,575.7 1051,571.7" fill="none" stroke="#777" stroke-width="0.9"/>
</svg>
</div>
</body></html>
